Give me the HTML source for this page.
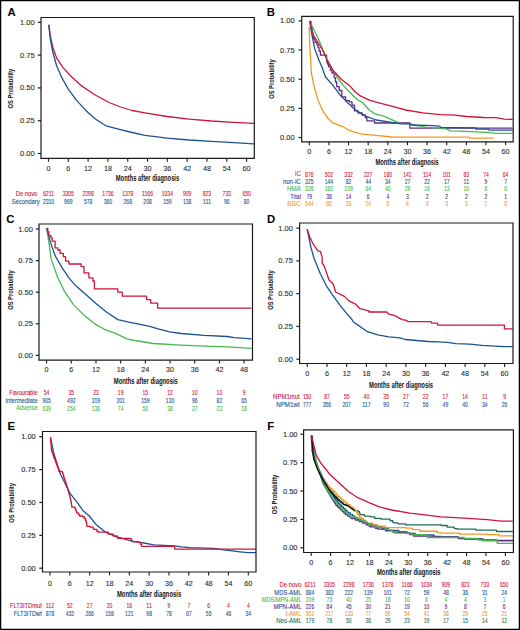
<!DOCTYPE html><html><head><meta charset="utf-8"><style>html,body{margin:0;padding:0;background:#fff;}svg{display:block;font-family:"Liberation Sans",sans-serif;}</style></head><body>
<svg width="520" height="630" viewBox="0 0 520 630">
<rect x="0" y="0" width="520" height="630" fill="#fff"/>
<polyline points="48.80,24.80 50.30,35.90 52.70,47.00 56.70,58.10 63.00,67.60 71.00,76.30 80.50,85.10 94.00,94.30 109.00,102.50 120.50,107.00 132.00,110.50 145.00,112.80 167.10,116.50 189.20,119.20 211.40,121.00 233.50,122.30 254.00,123.40" fill="none" stroke="#d0143a" stroke-width="1.3" stroke-linejoin="round" stroke-linecap="butt"/>
<polyline points="48.80,24.80 50.30,39.00 52.70,51.70 56.70,66.00 61.50,77.10 67.80,88.30 75.70,99.40 83.70,108.10 87.70,112.30 95.40,119.00 106.00,125.80 118.50,129.10 130.00,132.00 145.00,135.40 167.10,138.20 189.20,140.00 211.40,141.30 233.50,142.70 254.00,143.80" fill="none" stroke="#1b5292" stroke-width="1.3" stroke-linejoin="round" stroke-linecap="butt"/>
<path d="M41.00,17.50 H254.30 V158.30 H41.00 Z" fill="none" stroke="#1a1a1a" stroke-width="1.2"/>
<line x1="37.80" y1="153.50" x2="41.00" y2="153.50" stroke="#1a1a1a" stroke-width="1.2"/>
<text x="34.60" y="156.00" font-size="7.5" fill="#2a2a2a" text-anchor="end" font-weight="normal" stroke="#2a2a2a" stroke-width="0.1">0.00</text>
<line x1="37.80" y1="120.70" x2="41.00" y2="120.70" stroke="#1a1a1a" stroke-width="1.2"/>
<text x="34.60" y="123.20" font-size="7.5" fill="#2a2a2a" text-anchor="end" font-weight="normal" stroke="#2a2a2a" stroke-width="0.1">0.25</text>
<line x1="37.80" y1="87.90" x2="41.00" y2="87.90" stroke="#1a1a1a" stroke-width="1.2"/>
<text x="34.60" y="90.40" font-size="7.5" fill="#2a2a2a" text-anchor="end" font-weight="normal" stroke="#2a2a2a" stroke-width="0.1">0.50</text>
<line x1="37.80" y1="55.10" x2="41.00" y2="55.10" stroke="#1a1a1a" stroke-width="1.2"/>
<text x="34.60" y="57.60" font-size="7.5" fill="#2a2a2a" text-anchor="end" font-weight="normal" stroke="#2a2a2a" stroke-width="0.1">0.75</text>
<line x1="37.80" y1="22.30" x2="41.00" y2="22.30" stroke="#1a1a1a" stroke-width="1.2"/>
<text x="34.60" y="24.80" font-size="7.5" fill="#2a2a2a" text-anchor="end" font-weight="normal" stroke="#2a2a2a" stroke-width="0.1">1.00</text>
<line x1="48.50" y1="158.30" x2="48.50" y2="161.70" stroke="#1a1a1a" stroke-width="1.1"/>
<text x="48.50" y="171.00" font-size="7.2" fill="#2a2a2a" text-anchor="middle" font-weight="normal" stroke="#2a2a2a" stroke-width="0.1">0</text>
<line x1="68.31" y1="158.30" x2="68.31" y2="161.70" stroke="#1a1a1a" stroke-width="1.1"/>
<text x="68.31" y="171.00" font-size="7.2" fill="#2a2a2a" text-anchor="middle" font-weight="normal" stroke="#2a2a2a" stroke-width="0.1">6</text>
<line x1="88.12" y1="158.30" x2="88.12" y2="161.70" stroke="#1a1a1a" stroke-width="1.1"/>
<text x="88.12" y="171.00" font-size="7.2" fill="#2a2a2a" text-anchor="middle" font-weight="normal" stroke="#2a2a2a" stroke-width="0.1">12</text>
<line x1="107.93" y1="158.30" x2="107.93" y2="161.70" stroke="#1a1a1a" stroke-width="1.1"/>
<text x="107.93" y="171.00" font-size="7.2" fill="#2a2a2a" text-anchor="middle" font-weight="normal" stroke="#2a2a2a" stroke-width="0.1">18</text>
<line x1="127.74" y1="158.30" x2="127.74" y2="161.70" stroke="#1a1a1a" stroke-width="1.1"/>
<text x="127.74" y="171.00" font-size="7.2" fill="#2a2a2a" text-anchor="middle" font-weight="normal" stroke="#2a2a2a" stroke-width="0.1">24</text>
<line x1="147.55" y1="158.30" x2="147.55" y2="161.70" stroke="#1a1a1a" stroke-width="1.1"/>
<text x="147.55" y="171.00" font-size="7.2" fill="#2a2a2a" text-anchor="middle" font-weight="normal" stroke="#2a2a2a" stroke-width="0.1">30</text>
<line x1="167.36" y1="158.30" x2="167.36" y2="161.70" stroke="#1a1a1a" stroke-width="1.1"/>
<text x="167.36" y="171.00" font-size="7.2" fill="#2a2a2a" text-anchor="middle" font-weight="normal" stroke="#2a2a2a" stroke-width="0.1">36</text>
<line x1="187.17" y1="158.30" x2="187.17" y2="161.70" stroke="#1a1a1a" stroke-width="1.1"/>
<text x="187.17" y="171.00" font-size="7.2" fill="#2a2a2a" text-anchor="middle" font-weight="normal" stroke="#2a2a2a" stroke-width="0.1">42</text>
<line x1="206.98" y1="158.30" x2="206.98" y2="161.70" stroke="#1a1a1a" stroke-width="1.1"/>
<text x="206.98" y="171.00" font-size="7.2" fill="#2a2a2a" text-anchor="middle" font-weight="normal" stroke="#2a2a2a" stroke-width="0.1">48</text>
<line x1="226.79" y1="158.30" x2="226.79" y2="161.70" stroke="#1a1a1a" stroke-width="1.1"/>
<text x="226.79" y="171.00" font-size="7.2" fill="#2a2a2a" text-anchor="middle" font-weight="normal" stroke="#2a2a2a" stroke-width="0.1">54</text>
<line x1="246.60" y1="158.30" x2="246.60" y2="161.70" stroke="#1a1a1a" stroke-width="1.1"/>
<text x="246.60" y="171.00" font-size="7.2" fill="#2a2a2a" text-anchor="middle" font-weight="normal" stroke="#2a2a2a" stroke-width="0.1">60</text>
<text x="115.80" y="181.00" font-size="8.6" fill="#111" text-anchor="start" font-weight="bold" textLength="63.40" lengthAdjust="spacingAndGlyphs">Months after diagnosis</text>
<text transform="translate(12.70,88.60) rotate(-90)" x="0" y="0" font-size="8.0" font-weight="bold" fill="#111" text-anchor="middle" textLength="39.6" lengthAdjust="spacingAndGlyphs">OS Probability</text>
<text x="7.50" y="15.60" font-size="11.3" fill="#000" text-anchor="start" font-weight="bold">A</text>
<text x="15.80" y="195.60" font-size="6.5" fill="#d0143a" text-anchor="start" font-weight="normal" textLength="21.50" lengthAdjust="spacingAndGlyphs" stroke="#d0143a" stroke-width="0.1">De novo</text>
<text x="48.50" y="195.80" font-size="6.4" fill="#d0143a" text-anchor="middle" font-weight="normal" textLength="11.20" lengthAdjust="spacingAndGlyphs" stroke="#d0143a" stroke-width="0.1">6211</text>
<text x="68.31" y="195.80" font-size="6.4" fill="#d0143a" text-anchor="middle" font-weight="normal" textLength="11.20" lengthAdjust="spacingAndGlyphs" stroke="#d0143a" stroke-width="0.1">3305</text>
<text x="88.12" y="195.80" font-size="6.4" fill="#d0143a" text-anchor="middle" font-weight="normal" textLength="11.20" lengthAdjust="spacingAndGlyphs" stroke="#d0143a" stroke-width="0.1">2298</text>
<text x="107.93" y="195.80" font-size="6.4" fill="#d0143a" text-anchor="middle" font-weight="normal" textLength="11.20" lengthAdjust="spacingAndGlyphs" stroke="#d0143a" stroke-width="0.1">1736</text>
<text x="127.74" y="195.80" font-size="6.4" fill="#d0143a" text-anchor="middle" font-weight="normal" textLength="11.20" lengthAdjust="spacingAndGlyphs" stroke="#d0143a" stroke-width="0.1">1378</text>
<text x="147.55" y="195.80" font-size="6.4" fill="#d0143a" text-anchor="middle" font-weight="normal" textLength="11.20" lengthAdjust="spacingAndGlyphs" stroke="#d0143a" stroke-width="0.1">1166</text>
<text x="167.36" y="195.80" font-size="6.4" fill="#d0143a" text-anchor="middle" font-weight="normal" textLength="11.20" lengthAdjust="spacingAndGlyphs" stroke="#d0143a" stroke-width="0.1">1034</text>
<text x="187.17" y="195.80" font-size="6.4" fill="#d0143a" text-anchor="middle" font-weight="normal" textLength="8.40" lengthAdjust="spacingAndGlyphs" stroke="#d0143a" stroke-width="0.1">909</text>
<text x="206.98" y="195.80" font-size="6.4" fill="#d0143a" text-anchor="middle" font-weight="normal" textLength="8.40" lengthAdjust="spacingAndGlyphs" stroke="#d0143a" stroke-width="0.1">823</text>
<text x="226.79" y="195.80" font-size="6.4" fill="#d0143a" text-anchor="middle" font-weight="normal" textLength="8.40" lengthAdjust="spacingAndGlyphs" stroke="#d0143a" stroke-width="0.1">733</text>
<text x="246.60" y="195.80" font-size="6.4" fill="#d0143a" text-anchor="middle" font-weight="normal" textLength="8.40" lengthAdjust="spacingAndGlyphs" stroke="#d0143a" stroke-width="0.1">650</text>
<text x="11.70" y="203.60" font-size="6.5" fill="#1b5292" text-anchor="start" font-weight="normal" textLength="27.90" lengthAdjust="spacingAndGlyphs" stroke="#1b5292" stroke-width="0.1">Secondary</text>
<text x="48.50" y="203.80" font-size="6.4" fill="#1b5292" text-anchor="middle" font-weight="normal" textLength="11.20" lengthAdjust="spacingAndGlyphs" stroke="#1b5292" stroke-width="0.1">2310</text>
<text x="68.31" y="203.80" font-size="6.4" fill="#1b5292" text-anchor="middle" font-weight="normal" textLength="8.40" lengthAdjust="spacingAndGlyphs" stroke="#1b5292" stroke-width="0.1">969</text>
<text x="88.12" y="203.80" font-size="6.4" fill="#1b5292" text-anchor="middle" font-weight="normal" textLength="8.40" lengthAdjust="spacingAndGlyphs" stroke="#1b5292" stroke-width="0.1">578</text>
<text x="107.93" y="203.80" font-size="6.4" fill="#1b5292" text-anchor="middle" font-weight="normal" textLength="8.40" lengthAdjust="spacingAndGlyphs" stroke="#1b5292" stroke-width="0.1">360</text>
<text x="127.74" y="203.80" font-size="6.4" fill="#1b5292" text-anchor="middle" font-weight="normal" textLength="8.40" lengthAdjust="spacingAndGlyphs" stroke="#1b5292" stroke-width="0.1">268</text>
<text x="147.55" y="203.80" font-size="6.4" fill="#1b5292" text-anchor="middle" font-weight="normal" textLength="8.40" lengthAdjust="spacingAndGlyphs" stroke="#1b5292" stroke-width="0.1">208</text>
<text x="167.36" y="203.80" font-size="6.4" fill="#1b5292" text-anchor="middle" font-weight="normal" textLength="8.40" lengthAdjust="spacingAndGlyphs" stroke="#1b5292" stroke-width="0.1">159</text>
<text x="187.17" y="203.80" font-size="6.4" fill="#1b5292" text-anchor="middle" font-weight="normal" textLength="8.40" lengthAdjust="spacingAndGlyphs" stroke="#1b5292" stroke-width="0.1">138</text>
<text x="206.98" y="203.80" font-size="6.4" fill="#1b5292" text-anchor="middle" font-weight="normal" textLength="8.40" lengthAdjust="spacingAndGlyphs" stroke="#1b5292" stroke-width="0.1">111</text>
<text x="226.79" y="203.80" font-size="6.4" fill="#1b5292" text-anchor="middle" font-weight="normal" textLength="5.60" lengthAdjust="spacingAndGlyphs" stroke="#1b5292" stroke-width="0.1">96</text>
<text x="246.60" y="203.80" font-size="6.4" fill="#1b5292" text-anchor="middle" font-weight="normal" textLength="5.60" lengthAdjust="spacingAndGlyphs" stroke="#1b5292" stroke-width="0.1">80</text>
<polyline points="309.10,27.10 309.90,48.60 310.70,60.00 311.30,72.70 313.90,85.40 317.70,99.40 322.80,110.80 327.90,118.40 332.90,122.90 338.00,124.80 343.10,126.70 348.20,129.80 355.00,132.40 360.80,133.80 376.20,135.40 391.50,137.00 468.80,137.10 470.00,138.20 493.60,138.20" fill="none" stroke="#f7961f" stroke-width="1.3" stroke-linejoin="round" stroke-linecap="butt"/>
<polyline points="309.70,21.40 311.00,21.40 311.00,28.00 312.00,28.00 312.00,33.00 313.00,33.00 313.00,37.00 313.70,37.00 313.70,39.00 315.10,39.00 315.10,42.40 317.00,42.40 317.00,44.80 318.00,44.80 318.00,47.60 319.00,47.60 319.00,51.00 320.40,51.00 320.40,55.20 325.10,55.20 325.10,55.20 326.60,55.20 326.60,61.90 327.50,61.90 327.50,64.00 328.50,64.00 328.50,66.70 330.40,66.70 330.40,70.20 332.00,70.20 332.00,73.00 334.20,73.00 334.20,77.80 335.50,77.80 335.50,82.00 336.70,82.00 336.70,86.70 339.30,86.70 339.30,90.50 341.80,90.50 341.80,96.80 345.60,96.80 345.60,100.60 349.40,100.60 349.40,101.90 352.00,101.90 352.00,105.10 354.50,105.10 354.50,110.80 358.00,110.80 358.00,113.00 362.00,113.00 362.00,115.00 365.40,115.00 365.40,117.70 366.90,117.70 366.90,120.80 374.60,120.80 374.60,123.00 409.80,123.00 409.80,123.00 409.80,123.00 409.80,128.20 512.70,128.20 512.70,128.20" fill="none" stroke="#5e2a86" stroke-width="1.3" stroke-linejoin="round" stroke-linecap="butt"/>
<polyline points="309.70,21.00 313.70,29.50 318.50,39.00 323.20,50.50 327.00,59.00 330.90,66.70 336.70,76.50 343.10,85.40 349.40,91.70 355.00,97.50 357.70,100.00 362.30,102.30 368.50,109.20 374.60,113.80 383.80,116.20 397.70,122.30 400.00,123.60 411.50,123.60 412.00,125.00 420.80,126.10 426.50,127.30 445.00,128.50 450.70,130.80 460.00,131.10 480.40,132.10 489.60,132.70 495.40,133.30 512.70,133.30" fill="none" stroke="#45b94f" stroke-width="1.3" stroke-linejoin="round" stroke-linecap="butt"/>
<polyline points="309.70,21.40 311.80,34.30 314.70,48.60 318.50,59.00 322.30,68.00 325.50,77.00 332.90,85.40 340.60,95.60 348.20,103.20 355.00,109.50 365.40,116.20 376.20,120.00 391.50,122.30 400.00,123.60 409.20,123.80 411.50,125.00 433.40,125.60 439.80,126.10 440.40,127.30 475.80,127.80 475.80,129.20 488.40,129.20 489.00,130.10 512.70,130.10" fill="none" stroke="#1b5292" stroke-width="1.3" stroke-linejoin="round" stroke-linecap="butt"/>
<polyline points="309.70,21.40 312.80,34.30 317.50,41.90 322.30,49.50 327.00,60.00 332.90,70.20 341.80,79.70 349.40,85.40 355.00,91.70 360.80,96.20 370.00,100.30 380.80,103.40 391.50,106.20 405.80,110.00 423.00,112.90 440.40,114.60 455.00,115.20 466.50,116.50 483.80,117.50 495.40,117.70 504.60,119.10 512.70,119.40" fill="none" stroke="#d0143a" stroke-width="1.3" stroke-linejoin="round" stroke-linecap="butt"/>
<path d="M301.70,16.40 H513.20 V141.80 H301.70 Z" fill="none" stroke="#1a1a1a" stroke-width="1.2"/>
<line x1="298.50" y1="137.50" x2="301.70" y2="137.50" stroke="#1a1a1a" stroke-width="1.2"/>
<text x="294.70" y="140.00" font-size="7.5" fill="#2a2a2a" text-anchor="end" font-weight="normal" stroke="#2a2a2a" stroke-width="0.1">0.00</text>
<line x1="298.50" y1="108.35" x2="301.70" y2="108.35" stroke="#1a1a1a" stroke-width="1.2"/>
<text x="294.70" y="110.85" font-size="7.5" fill="#2a2a2a" text-anchor="end" font-weight="normal" stroke="#2a2a2a" stroke-width="0.1">0.25</text>
<line x1="298.50" y1="79.20" x2="301.70" y2="79.20" stroke="#1a1a1a" stroke-width="1.2"/>
<text x="294.70" y="81.70" font-size="7.5" fill="#2a2a2a" text-anchor="end" font-weight="normal" stroke="#2a2a2a" stroke-width="0.1">0.50</text>
<line x1="298.50" y1="50.05" x2="301.70" y2="50.05" stroke="#1a1a1a" stroke-width="1.2"/>
<text x="294.70" y="52.55" font-size="7.5" fill="#2a2a2a" text-anchor="end" font-weight="normal" stroke="#2a2a2a" stroke-width="0.1">0.75</text>
<line x1="298.50" y1="20.90" x2="301.70" y2="20.90" stroke="#1a1a1a" stroke-width="1.2"/>
<text x="294.70" y="23.40" font-size="7.5" fill="#2a2a2a" text-anchor="end" font-weight="normal" stroke="#2a2a2a" stroke-width="0.1">1.00</text>
<line x1="309.30" y1="141.80" x2="309.30" y2="145.20" stroke="#1a1a1a" stroke-width="1.1"/>
<text x="309.30" y="154.20" font-size="7.2" fill="#2a2a2a" text-anchor="middle" font-weight="normal" stroke="#2a2a2a" stroke-width="0.1">0</text>
<line x1="328.93" y1="141.80" x2="328.93" y2="145.20" stroke="#1a1a1a" stroke-width="1.1"/>
<text x="328.93" y="154.20" font-size="7.2" fill="#2a2a2a" text-anchor="middle" font-weight="normal" stroke="#2a2a2a" stroke-width="0.1">6</text>
<line x1="348.56" y1="141.80" x2="348.56" y2="145.20" stroke="#1a1a1a" stroke-width="1.1"/>
<text x="348.56" y="154.20" font-size="7.2" fill="#2a2a2a" text-anchor="middle" font-weight="normal" stroke="#2a2a2a" stroke-width="0.1">12</text>
<line x1="368.19" y1="141.80" x2="368.19" y2="145.20" stroke="#1a1a1a" stroke-width="1.1"/>
<text x="368.19" y="154.20" font-size="7.2" fill="#2a2a2a" text-anchor="middle" font-weight="normal" stroke="#2a2a2a" stroke-width="0.1">18</text>
<line x1="387.82" y1="141.80" x2="387.82" y2="145.20" stroke="#1a1a1a" stroke-width="1.1"/>
<text x="387.82" y="154.20" font-size="7.2" fill="#2a2a2a" text-anchor="middle" font-weight="normal" stroke="#2a2a2a" stroke-width="0.1">24</text>
<line x1="407.45" y1="141.80" x2="407.45" y2="145.20" stroke="#1a1a1a" stroke-width="1.1"/>
<text x="407.45" y="154.20" font-size="7.2" fill="#2a2a2a" text-anchor="middle" font-weight="normal" stroke="#2a2a2a" stroke-width="0.1">30</text>
<line x1="427.08" y1="141.80" x2="427.08" y2="145.20" stroke="#1a1a1a" stroke-width="1.1"/>
<text x="427.08" y="154.20" font-size="7.2" fill="#2a2a2a" text-anchor="middle" font-weight="normal" stroke="#2a2a2a" stroke-width="0.1">36</text>
<line x1="446.71" y1="141.80" x2="446.71" y2="145.20" stroke="#1a1a1a" stroke-width="1.1"/>
<text x="446.71" y="154.20" font-size="7.2" fill="#2a2a2a" text-anchor="middle" font-weight="normal" stroke="#2a2a2a" stroke-width="0.1">42</text>
<line x1="466.34" y1="141.80" x2="466.34" y2="145.20" stroke="#1a1a1a" stroke-width="1.1"/>
<text x="466.34" y="154.20" font-size="7.2" fill="#2a2a2a" text-anchor="middle" font-weight="normal" stroke="#2a2a2a" stroke-width="0.1">48</text>
<line x1="485.97" y1="141.80" x2="485.97" y2="145.20" stroke="#1a1a1a" stroke-width="1.1"/>
<text x="485.97" y="154.20" font-size="7.2" fill="#2a2a2a" text-anchor="middle" font-weight="normal" stroke="#2a2a2a" stroke-width="0.1">54</text>
<line x1="505.60" y1="141.80" x2="505.60" y2="145.20" stroke="#1a1a1a" stroke-width="1.1"/>
<text x="505.60" y="154.20" font-size="7.2" fill="#2a2a2a" text-anchor="middle" font-weight="normal" stroke="#2a2a2a" stroke-width="0.1">60</text>
<text x="375.40" y="164.60" font-size="8.6" fill="#111" text-anchor="start" font-weight="bold" textLength="63.40" lengthAdjust="spacingAndGlyphs">Months after diagnosis</text>
<text transform="translate(274.30,79.00) rotate(-90)" x="0" y="0" font-size="8.0" font-weight="bold" fill="#111" text-anchor="middle" textLength="39.6" lengthAdjust="spacingAndGlyphs">OS Probability</text>
<text x="266.70" y="15.50" font-size="11.3" fill="#000" text-anchor="start" font-weight="bold">B</text>
<text x="295.00" y="176.30" font-size="6.5" fill="#d0143a" text-anchor="start" font-weight="normal" textLength="5.90" lengthAdjust="spacingAndGlyphs" stroke="#d0143a" stroke-width="0.1">IC</text>
<text x="309.30" y="176.50" font-size="6.4" fill="#d0143a" text-anchor="middle" font-weight="normal" textLength="8.40" lengthAdjust="spacingAndGlyphs" stroke="#d0143a" stroke-width="0.1">876</text>
<text x="328.93" y="176.50" font-size="6.4" fill="#d0143a" text-anchor="middle" font-weight="normal" textLength="8.40" lengthAdjust="spacingAndGlyphs" stroke="#d0143a" stroke-width="0.1">502</text>
<text x="348.56" y="176.50" font-size="6.4" fill="#d0143a" text-anchor="middle" font-weight="normal" textLength="8.40" lengthAdjust="spacingAndGlyphs" stroke="#d0143a" stroke-width="0.1">332</text>
<text x="368.19" y="176.50" font-size="6.4" fill="#d0143a" text-anchor="middle" font-weight="normal" textLength="8.40" lengthAdjust="spacingAndGlyphs" stroke="#d0143a" stroke-width="0.1">227</text>
<text x="387.82" y="176.50" font-size="6.4" fill="#d0143a" text-anchor="middle" font-weight="normal" textLength="8.40" lengthAdjust="spacingAndGlyphs" stroke="#d0143a" stroke-width="0.1">180</text>
<text x="407.45" y="176.50" font-size="6.4" fill="#d0143a" text-anchor="middle" font-weight="normal" textLength="8.40" lengthAdjust="spacingAndGlyphs" stroke="#d0143a" stroke-width="0.1">141</text>
<text x="427.08" y="176.50" font-size="6.4" fill="#d0143a" text-anchor="middle" font-weight="normal" textLength="8.40" lengthAdjust="spacingAndGlyphs" stroke="#d0143a" stroke-width="0.1">114</text>
<text x="446.71" y="176.50" font-size="6.4" fill="#d0143a" text-anchor="middle" font-weight="normal" textLength="8.40" lengthAdjust="spacingAndGlyphs" stroke="#d0143a" stroke-width="0.1">101</text>
<text x="466.34" y="176.50" font-size="6.4" fill="#d0143a" text-anchor="middle" font-weight="normal" textLength="5.60" lengthAdjust="spacingAndGlyphs" stroke="#d0143a" stroke-width="0.1">83</text>
<text x="485.97" y="176.50" font-size="6.4" fill="#d0143a" text-anchor="middle" font-weight="normal" textLength="5.60" lengthAdjust="spacingAndGlyphs" stroke="#d0143a" stroke-width="0.1">74</text>
<text x="505.60" y="176.50" font-size="6.4" fill="#d0143a" text-anchor="middle" font-weight="normal" textLength="5.60" lengthAdjust="spacingAndGlyphs" stroke="#d0143a" stroke-width="0.1">64</text>
<text x="282.90" y="183.60" font-size="6.5" fill="#1b5292" text-anchor="start" font-weight="normal" textLength="18.00" lengthAdjust="spacingAndGlyphs" stroke="#1b5292" stroke-width="0.1">non-IC</text>
<text x="309.30" y="183.80" font-size="6.4" fill="#1b5292" text-anchor="middle" font-weight="normal" textLength="8.40" lengthAdjust="spacingAndGlyphs" stroke="#1b5292" stroke-width="0.1">325</text>
<text x="328.93" y="183.80" font-size="6.4" fill="#1b5292" text-anchor="middle" font-weight="normal" textLength="8.40" lengthAdjust="spacingAndGlyphs" stroke="#1b5292" stroke-width="0.1">144</text>
<text x="348.56" y="183.80" font-size="6.4" fill="#1b5292" text-anchor="middle" font-weight="normal" textLength="5.60" lengthAdjust="spacingAndGlyphs" stroke="#1b5292" stroke-width="0.1">82</text>
<text x="368.19" y="183.80" font-size="6.4" fill="#1b5292" text-anchor="middle" font-weight="normal" textLength="5.60" lengthAdjust="spacingAndGlyphs" stroke="#1b5292" stroke-width="0.1">44</text>
<text x="387.82" y="183.80" font-size="6.4" fill="#1b5292" text-anchor="middle" font-weight="normal" textLength="5.60" lengthAdjust="spacingAndGlyphs" stroke="#1b5292" stroke-width="0.1">34</text>
<text x="407.45" y="183.80" font-size="6.4" fill="#1b5292" text-anchor="middle" font-weight="normal" textLength="5.60" lengthAdjust="spacingAndGlyphs" stroke="#1b5292" stroke-width="0.1">27</text>
<text x="427.08" y="183.80" font-size="6.4" fill="#1b5292" text-anchor="middle" font-weight="normal" textLength="5.60" lengthAdjust="spacingAndGlyphs" stroke="#1b5292" stroke-width="0.1">22</text>
<text x="446.71" y="183.80" font-size="6.4" fill="#1b5292" text-anchor="middle" font-weight="normal" textLength="5.60" lengthAdjust="spacingAndGlyphs" stroke="#1b5292" stroke-width="0.1">17</text>
<text x="466.34" y="183.80" font-size="6.4" fill="#1b5292" text-anchor="middle" font-weight="normal" textLength="5.60" lengthAdjust="spacingAndGlyphs" stroke="#1b5292" stroke-width="0.1">11</text>
<text x="485.97" y="183.80" font-size="6.4" fill="#1b5292" text-anchor="middle" font-weight="normal" textLength="2.80" lengthAdjust="spacingAndGlyphs" stroke="#1b5292" stroke-width="0.1">9</text>
<text x="505.60" y="183.80" font-size="6.4" fill="#1b5292" text-anchor="middle" font-weight="normal" textLength="2.80" lengthAdjust="spacingAndGlyphs" stroke="#1b5292" stroke-width="0.1">7</text>
<text x="287.10" y="191.10" font-size="6.5" fill="#45b94f" text-anchor="start" font-weight="normal" textLength="13.80" lengthAdjust="spacingAndGlyphs" stroke="#45b94f" stroke-width="0.1">HMA</text>
<text x="309.30" y="191.30" font-size="6.4" fill="#45b94f" text-anchor="middle" font-weight="normal" textLength="8.40" lengthAdjust="spacingAndGlyphs" stroke="#45b94f" stroke-width="0.1">328</text>
<text x="328.93" y="191.30" font-size="6.4" fill="#45b94f" text-anchor="middle" font-weight="normal" textLength="8.40" lengthAdjust="spacingAndGlyphs" stroke="#45b94f" stroke-width="0.1">183</text>
<text x="348.56" y="191.30" font-size="6.4" fill="#45b94f" text-anchor="middle" font-weight="normal" textLength="8.40" lengthAdjust="spacingAndGlyphs" stroke="#45b94f" stroke-width="0.1">109</text>
<text x="368.19" y="191.30" font-size="6.4" fill="#45b94f" text-anchor="middle" font-weight="normal" textLength="5.60" lengthAdjust="spacingAndGlyphs" stroke="#45b94f" stroke-width="0.1">64</text>
<text x="387.82" y="191.30" font-size="6.4" fill="#45b94f" text-anchor="middle" font-weight="normal" textLength="5.60" lengthAdjust="spacingAndGlyphs" stroke="#45b94f" stroke-width="0.1">40</text>
<text x="407.45" y="191.30" font-size="6.4" fill="#45b94f" text-anchor="middle" font-weight="normal" textLength="5.60" lengthAdjust="spacingAndGlyphs" stroke="#45b94f" stroke-width="0.1">29</text>
<text x="427.08" y="191.30" font-size="6.4" fill="#45b94f" text-anchor="middle" font-weight="normal" textLength="5.60" lengthAdjust="spacingAndGlyphs" stroke="#45b94f" stroke-width="0.1">16</text>
<text x="446.71" y="191.30" font-size="6.4" fill="#45b94f" text-anchor="middle" font-weight="normal" textLength="5.60" lengthAdjust="spacingAndGlyphs" stroke="#45b94f" stroke-width="0.1">13</text>
<text x="466.34" y="191.30" font-size="6.4" fill="#45b94f" text-anchor="middle" font-weight="normal" textLength="5.60" lengthAdjust="spacingAndGlyphs" stroke="#45b94f" stroke-width="0.1">10</text>
<text x="485.97" y="191.30" font-size="6.4" fill="#45b94f" text-anchor="middle" font-weight="normal" textLength="2.80" lengthAdjust="spacingAndGlyphs" stroke="#45b94f" stroke-width="0.1">8</text>
<text x="505.60" y="191.30" font-size="6.4" fill="#45b94f" text-anchor="middle" font-weight="normal" textLength="2.80" lengthAdjust="spacingAndGlyphs" stroke="#45b94f" stroke-width="0.1">6</text>
<text x="290.20" y="198.60" font-size="6.5" fill="#5e2a86" text-anchor="start" font-weight="normal" textLength="10.70" lengthAdjust="spacingAndGlyphs" stroke="#5e2a86" stroke-width="0.1">Trial</text>
<text x="309.30" y="198.80" font-size="6.4" fill="#5e2a86" text-anchor="middle" font-weight="normal" textLength="5.60" lengthAdjust="spacingAndGlyphs" stroke="#5e2a86" stroke-width="0.1">79</text>
<text x="328.93" y="198.80" font-size="6.4" fill="#5e2a86" text-anchor="middle" font-weight="normal" textLength="5.60" lengthAdjust="spacingAndGlyphs" stroke="#5e2a86" stroke-width="0.1">38</text>
<text x="348.56" y="198.80" font-size="6.4" fill="#5e2a86" text-anchor="middle" font-weight="normal" textLength="5.60" lengthAdjust="spacingAndGlyphs" stroke="#5e2a86" stroke-width="0.1">14</text>
<text x="368.19" y="198.80" font-size="6.4" fill="#5e2a86" text-anchor="middle" font-weight="normal" textLength="2.80" lengthAdjust="spacingAndGlyphs" stroke="#5e2a86" stroke-width="0.1">6</text>
<text x="387.82" y="198.80" font-size="6.4" fill="#5e2a86" text-anchor="middle" font-weight="normal" textLength="2.80" lengthAdjust="spacingAndGlyphs" stroke="#5e2a86" stroke-width="0.1">4</text>
<text x="407.45" y="198.80" font-size="6.4" fill="#5e2a86" text-anchor="middle" font-weight="normal" textLength="2.80" lengthAdjust="spacingAndGlyphs" stroke="#5e2a86" stroke-width="0.1">3</text>
<text x="427.08" y="198.80" font-size="6.4" fill="#5e2a86" text-anchor="middle" font-weight="normal" textLength="2.80" lengthAdjust="spacingAndGlyphs" stroke="#5e2a86" stroke-width="0.1">2</text>
<text x="446.71" y="198.80" font-size="6.4" fill="#5e2a86" text-anchor="middle" font-weight="normal" textLength="2.80" lengthAdjust="spacingAndGlyphs" stroke="#5e2a86" stroke-width="0.1">2</text>
<text x="466.34" y="198.80" font-size="6.4" fill="#5e2a86" text-anchor="middle" font-weight="normal" textLength="2.80" lengthAdjust="spacingAndGlyphs" stroke="#5e2a86" stroke-width="0.1">2</text>
<text x="485.97" y="198.80" font-size="6.4" fill="#5e2a86" text-anchor="middle" font-weight="normal" textLength="2.80" lengthAdjust="spacingAndGlyphs" stroke="#5e2a86" stroke-width="0.1">2</text>
<text x="505.60" y="198.80" font-size="6.4" fill="#5e2a86" text-anchor="middle" font-weight="normal" textLength="2.80" lengthAdjust="spacingAndGlyphs" stroke="#5e2a86" stroke-width="0.1">1</text>
<text x="287.30" y="205.70" font-size="6.5" fill="#f7961f" text-anchor="start" font-weight="normal" textLength="13.60" lengthAdjust="spacingAndGlyphs" stroke="#f7961f" stroke-width="0.1">BSC</text>
<text x="309.30" y="205.90" font-size="6.4" fill="#f7961f" text-anchor="middle" font-weight="normal" textLength="8.40" lengthAdjust="spacingAndGlyphs" stroke="#f7961f" stroke-width="0.1">544</text>
<text x="328.93" y="205.90" font-size="6.4" fill="#f7961f" text-anchor="middle" font-weight="normal" textLength="5.60" lengthAdjust="spacingAndGlyphs" stroke="#f7961f" stroke-width="0.1">86</text>
<text x="348.56" y="205.90" font-size="6.4" fill="#f7961f" text-anchor="middle" font-weight="normal" textLength="5.60" lengthAdjust="spacingAndGlyphs" stroke="#f7961f" stroke-width="0.1">33</text>
<text x="368.19" y="205.90" font-size="6.4" fill="#f7961f" text-anchor="middle" font-weight="normal" textLength="5.60" lengthAdjust="spacingAndGlyphs" stroke="#f7961f" stroke-width="0.1">14</text>
<text x="387.82" y="205.90" font-size="6.4" fill="#f7961f" text-anchor="middle" font-weight="normal" textLength="2.80" lengthAdjust="spacingAndGlyphs" stroke="#f7961f" stroke-width="0.1">6</text>
<text x="407.45" y="205.90" font-size="6.4" fill="#f7961f" text-anchor="middle" font-weight="normal" textLength="2.80" lengthAdjust="spacingAndGlyphs" stroke="#f7961f" stroke-width="0.1">4</text>
<text x="427.08" y="205.90" font-size="6.4" fill="#f7961f" text-anchor="middle" font-weight="normal" textLength="2.80" lengthAdjust="spacingAndGlyphs" stroke="#f7961f" stroke-width="0.1">3</text>
<text x="446.71" y="205.90" font-size="6.4" fill="#f7961f" text-anchor="middle" font-weight="normal" textLength="2.80" lengthAdjust="spacingAndGlyphs" stroke="#f7961f" stroke-width="0.1">3</text>
<text x="466.34" y="205.90" font-size="6.4" fill="#f7961f" text-anchor="middle" font-weight="normal" textLength="2.80" lengthAdjust="spacingAndGlyphs" stroke="#f7961f" stroke-width="0.1">3</text>
<text x="485.97" y="205.90" font-size="6.4" fill="#f7961f" text-anchor="middle" font-weight="normal" textLength="2.80" lengthAdjust="spacingAndGlyphs" stroke="#f7961f" stroke-width="0.1">1</text>
<text x="505.60" y="205.90" font-size="6.4" fill="#f7961f" text-anchor="middle" font-weight="normal" textLength="2.80" lengthAdjust="spacingAndGlyphs" stroke="#f7961f" stroke-width="0.1">0</text>
<polyline points="46.70,228.40 48.90,242.20 51.10,258.90 57.80,277.80 64.40,291.10 73.30,304.40 84.40,315.60 95.60,324.40 104.40,329.30 115.60,333.30 126.70,338.90 135.00,340.50 153.50,343.50 181.20,345.10 204.20,346.20 227.30,346.90 251.50,348.30" fill="none" stroke="#45b94f" stroke-width="1.3" stroke-linejoin="round" stroke-linecap="butt"/>
<polyline points="46.70,228.40 51.10,244.40 55.60,256.70 62.20,267.80 68.90,277.80 75.60,285.60 84.40,293.30 95.60,303.30 106.70,312.20 117.80,319.60 128.90,322.20 135.00,323.40 148.80,326.20 158.10,328.90 169.60,331.90 181.20,333.50 204.20,335.40 227.30,336.50 234.20,337.70 251.50,338.80" fill="none" stroke="#1b5292" stroke-width="1.3" stroke-linejoin="round" stroke-linecap="butt"/>
<polyline points="46.70,228.40 47.80,228.40 47.80,232.00 48.90,232.00 48.90,235.60 51.10,235.60 51.10,237.80 52.20,237.80 52.20,241.10 55.10,241.10 55.10,247.80 57.80,247.80 57.80,250.00 60.00,250.00 60.00,253.30 63.30,253.30 63.30,256.70 65.60,256.70 65.60,261.10 68.90,261.10 68.90,264.00 81.10,264.00 81.10,266.70 84.00,266.70 84.00,272.90 88.90,272.90 88.90,277.80 92.90,277.80 92.90,281.00 94.40,281.00 94.40,288.90 117.80,288.90 117.80,292.20 122.20,292.20 122.20,296.20 146.50,296.20 146.50,299.60 150.70,299.60 150.70,303.10 157.60,303.10 157.60,308.20 251.50,308.20 251.50,308.20" fill="none" stroke="#d0143a" stroke-width="1.3" stroke-linejoin="round" stroke-linecap="butt"/>
<path d="M39.00,224.00 H252.50 V360.20 H39.00 Z" fill="none" stroke="#1a1a1a" stroke-width="1.2"/>
<line x1="35.80" y1="355.40" x2="39.00" y2="355.40" stroke="#1a1a1a" stroke-width="1.2"/>
<text x="32.90" y="357.90" font-size="7.5" fill="#2a2a2a" text-anchor="end" font-weight="normal" stroke="#2a2a2a" stroke-width="0.1">0.00</text>
<line x1="35.80" y1="323.80" x2="39.00" y2="323.80" stroke="#1a1a1a" stroke-width="1.2"/>
<text x="32.90" y="326.30" font-size="7.5" fill="#2a2a2a" text-anchor="end" font-weight="normal" stroke="#2a2a2a" stroke-width="0.1">0.25</text>
<line x1="35.80" y1="292.20" x2="39.00" y2="292.20" stroke="#1a1a1a" stroke-width="1.2"/>
<text x="32.90" y="294.70" font-size="7.5" fill="#2a2a2a" text-anchor="end" font-weight="normal" stroke="#2a2a2a" stroke-width="0.1">0.50</text>
<line x1="35.80" y1="260.60" x2="39.00" y2="260.60" stroke="#1a1a1a" stroke-width="1.2"/>
<text x="32.90" y="263.10" font-size="7.5" fill="#2a2a2a" text-anchor="end" font-weight="normal" stroke="#2a2a2a" stroke-width="0.1">0.75</text>
<line x1="35.80" y1="229.00" x2="39.00" y2="229.00" stroke="#1a1a1a" stroke-width="1.2"/>
<text x="32.90" y="231.50" font-size="7.5" fill="#2a2a2a" text-anchor="end" font-weight="normal" stroke="#2a2a2a" stroke-width="0.1">1.00</text>
<line x1="46.60" y1="360.20" x2="46.60" y2="363.60" stroke="#1a1a1a" stroke-width="1.1"/>
<text x="46.60" y="372.40" font-size="7.2" fill="#2a2a2a" text-anchor="middle" font-weight="normal" stroke="#2a2a2a" stroke-width="0.1">0</text>
<line x1="71.29" y1="360.20" x2="71.29" y2="363.60" stroke="#1a1a1a" stroke-width="1.1"/>
<text x="71.29" y="372.40" font-size="7.2" fill="#2a2a2a" text-anchor="middle" font-weight="normal" stroke="#2a2a2a" stroke-width="0.1">6</text>
<line x1="95.97" y1="360.20" x2="95.97" y2="363.60" stroke="#1a1a1a" stroke-width="1.1"/>
<text x="95.97" y="372.40" font-size="7.2" fill="#2a2a2a" text-anchor="middle" font-weight="normal" stroke="#2a2a2a" stroke-width="0.1">12</text>
<line x1="120.66" y1="360.20" x2="120.66" y2="363.60" stroke="#1a1a1a" stroke-width="1.1"/>
<text x="120.66" y="372.40" font-size="7.2" fill="#2a2a2a" text-anchor="middle" font-weight="normal" stroke="#2a2a2a" stroke-width="0.1">18</text>
<line x1="145.35" y1="360.20" x2="145.35" y2="363.60" stroke="#1a1a1a" stroke-width="1.1"/>
<text x="145.35" y="372.40" font-size="7.2" fill="#2a2a2a" text-anchor="middle" font-weight="normal" stroke="#2a2a2a" stroke-width="0.1">24</text>
<line x1="170.04" y1="360.20" x2="170.04" y2="363.60" stroke="#1a1a1a" stroke-width="1.1"/>
<text x="170.04" y="372.40" font-size="7.2" fill="#2a2a2a" text-anchor="middle" font-weight="normal" stroke="#2a2a2a" stroke-width="0.1">30</text>
<line x1="194.72" y1="360.20" x2="194.72" y2="363.60" stroke="#1a1a1a" stroke-width="1.1"/>
<text x="194.72" y="372.40" font-size="7.2" fill="#2a2a2a" text-anchor="middle" font-weight="normal" stroke="#2a2a2a" stroke-width="0.1">36</text>
<line x1="219.41" y1="360.20" x2="219.41" y2="363.60" stroke="#1a1a1a" stroke-width="1.1"/>
<text x="219.41" y="372.40" font-size="7.2" fill="#2a2a2a" text-anchor="middle" font-weight="normal" stroke="#2a2a2a" stroke-width="0.1">42</text>
<line x1="244.10" y1="360.20" x2="244.10" y2="363.60" stroke="#1a1a1a" stroke-width="1.1"/>
<text x="244.10" y="372.40" font-size="7.2" fill="#2a2a2a" text-anchor="middle" font-weight="normal" stroke="#2a2a2a" stroke-width="0.1">48</text>
<text x="113.80" y="384.40" font-size="8.6" fill="#111" text-anchor="start" font-weight="bold" textLength="64.00" lengthAdjust="spacingAndGlyphs">Months after diagnosis</text>
<text transform="translate(13.30,290.00) rotate(-90)" x="0" y="0" font-size="8.0" font-weight="bold" fill="#111" text-anchor="middle" textLength="39.6" lengthAdjust="spacingAndGlyphs">OS Probability</text>
<text x="6.30" y="222.90" font-size="11.3" fill="#000" text-anchor="start" font-weight="bold">C</text>
<text x="9.20" y="395.00" font-size="6.5" fill="#d0143a" text-anchor="start" font-weight="normal" textLength="28.50" lengthAdjust="spacingAndGlyphs" stroke="#d0143a" stroke-width="0.1">Favourable</text>
<text x="46.60" y="395.20" font-size="6.4" fill="#d0143a" text-anchor="middle" font-weight="normal" textLength="5.60" lengthAdjust="spacingAndGlyphs" stroke="#d0143a" stroke-width="0.1">54</text>
<text x="71.29" y="395.20" font-size="6.4" fill="#d0143a" text-anchor="middle" font-weight="normal" textLength="5.60" lengthAdjust="spacingAndGlyphs" stroke="#d0143a" stroke-width="0.1">35</text>
<text x="95.97" y="395.20" font-size="6.4" fill="#d0143a" text-anchor="middle" font-weight="normal" textLength="5.60" lengthAdjust="spacingAndGlyphs" stroke="#d0143a" stroke-width="0.1">23</text>
<text x="120.66" y="395.20" font-size="6.4" fill="#d0143a" text-anchor="middle" font-weight="normal" textLength="5.60" lengthAdjust="spacingAndGlyphs" stroke="#d0143a" stroke-width="0.1">19</text>
<text x="145.35" y="395.20" font-size="6.4" fill="#d0143a" text-anchor="middle" font-weight="normal" textLength="5.60" lengthAdjust="spacingAndGlyphs" stroke="#d0143a" stroke-width="0.1">15</text>
<text x="170.04" y="395.20" font-size="6.4" fill="#d0143a" text-anchor="middle" font-weight="normal" textLength="5.60" lengthAdjust="spacingAndGlyphs" stroke="#d0143a" stroke-width="0.1">12</text>
<text x="194.72" y="395.20" font-size="6.4" fill="#d0143a" text-anchor="middle" font-weight="normal" textLength="5.60" lengthAdjust="spacingAndGlyphs" stroke="#d0143a" stroke-width="0.1">10</text>
<text x="219.41" y="395.20" font-size="6.4" fill="#d0143a" text-anchor="middle" font-weight="normal" textLength="5.60" lengthAdjust="spacingAndGlyphs" stroke="#d0143a" stroke-width="0.1">10</text>
<text x="244.10" y="395.20" font-size="6.4" fill="#d0143a" text-anchor="middle" font-weight="normal" textLength="2.80" lengthAdjust="spacingAndGlyphs" stroke="#d0143a" stroke-width="0.1">9</text>
<text x="5.40" y="402.80" font-size="6.5" fill="#1b5292" text-anchor="start" font-weight="normal" textLength="32.30" lengthAdjust="spacingAndGlyphs" stroke="#1b5292" stroke-width="0.1">Intermediate</text>
<text x="46.60" y="403.00" font-size="6.4" fill="#1b5292" text-anchor="middle" font-weight="normal" textLength="8.40" lengthAdjust="spacingAndGlyphs" stroke="#1b5292" stroke-width="0.1">905</text>
<text x="71.29" y="403.00" font-size="6.4" fill="#1b5292" text-anchor="middle" font-weight="normal" textLength="8.40" lengthAdjust="spacingAndGlyphs" stroke="#1b5292" stroke-width="0.1">492</text>
<text x="95.97" y="403.00" font-size="6.4" fill="#1b5292" text-anchor="middle" font-weight="normal" textLength="8.40" lengthAdjust="spacingAndGlyphs" stroke="#1b5292" stroke-width="0.1">319</text>
<text x="120.66" y="403.00" font-size="6.4" fill="#1b5292" text-anchor="middle" font-weight="normal" textLength="8.40" lengthAdjust="spacingAndGlyphs" stroke="#1b5292" stroke-width="0.1">201</text>
<text x="145.35" y="403.00" font-size="6.4" fill="#1b5292" text-anchor="middle" font-weight="normal" textLength="8.40" lengthAdjust="spacingAndGlyphs" stroke="#1b5292" stroke-width="0.1">159</text>
<text x="170.04" y="403.00" font-size="6.4" fill="#1b5292" text-anchor="middle" font-weight="normal" textLength="8.40" lengthAdjust="spacingAndGlyphs" stroke="#1b5292" stroke-width="0.1">120</text>
<text x="194.72" y="403.00" font-size="6.4" fill="#1b5292" text-anchor="middle" font-weight="normal" textLength="5.60" lengthAdjust="spacingAndGlyphs" stroke="#1b5292" stroke-width="0.1">96</text>
<text x="219.41" y="403.00" font-size="6.4" fill="#1b5292" text-anchor="middle" font-weight="normal" textLength="5.60" lengthAdjust="spacingAndGlyphs" stroke="#1b5292" stroke-width="0.1">82</text>
<text x="244.10" y="403.00" font-size="6.4" fill="#1b5292" text-anchor="middle" font-weight="normal" textLength="5.60" lengthAdjust="spacingAndGlyphs" stroke="#1b5292" stroke-width="0.1">65</text>
<text x="16.20" y="410.30" font-size="6.5" fill="#45b94f" text-anchor="start" font-weight="normal" textLength="21.50" lengthAdjust="spacingAndGlyphs" stroke="#45b94f" stroke-width="0.1">Adverse</text>
<text x="46.60" y="410.50" font-size="6.4" fill="#45b94f" text-anchor="middle" font-weight="normal" textLength="8.40" lengthAdjust="spacingAndGlyphs" stroke="#45b94f" stroke-width="0.1">639</text>
<text x="71.29" y="410.50" font-size="6.4" fill="#45b94f" text-anchor="middle" font-weight="normal" textLength="8.40" lengthAdjust="spacingAndGlyphs" stroke="#45b94f" stroke-width="0.1">254</text>
<text x="95.97" y="410.50" font-size="6.4" fill="#45b94f" text-anchor="middle" font-weight="normal" textLength="8.40" lengthAdjust="spacingAndGlyphs" stroke="#45b94f" stroke-width="0.1">136</text>
<text x="120.66" y="410.50" font-size="6.4" fill="#45b94f" text-anchor="middle" font-weight="normal" textLength="5.60" lengthAdjust="spacingAndGlyphs" stroke="#45b94f" stroke-width="0.1">74</text>
<text x="145.35" y="410.50" font-size="6.4" fill="#45b94f" text-anchor="middle" font-weight="normal" textLength="5.60" lengthAdjust="spacingAndGlyphs" stroke="#45b94f" stroke-width="0.1">50</text>
<text x="170.04" y="410.50" font-size="6.4" fill="#45b94f" text-anchor="middle" font-weight="normal" textLength="5.60" lengthAdjust="spacingAndGlyphs" stroke="#45b94f" stroke-width="0.1">38</text>
<text x="194.72" y="410.50" font-size="6.4" fill="#45b94f" text-anchor="middle" font-weight="normal" textLength="5.60" lengthAdjust="spacingAndGlyphs" stroke="#45b94f" stroke-width="0.1">27</text>
<text x="219.41" y="410.50" font-size="6.4" fill="#45b94f" text-anchor="middle" font-weight="normal" textLength="5.60" lengthAdjust="spacingAndGlyphs" stroke="#45b94f" stroke-width="0.1">23</text>
<text x="244.10" y="410.50" font-size="6.4" fill="#45b94f" text-anchor="middle" font-weight="normal" textLength="5.60" lengthAdjust="spacingAndGlyphs" stroke="#45b94f" stroke-width="0.1">18</text>
<polyline points="307.10,229.10 309.00,238.00 311.00,247.60 314.00,258.20 320.10,273.20 323.10,279.30 326.10,285.30 332.10,294.30 339.70,304.80 345.70,312.40 351.80,319.20 353.30,322.00 360.00,326.40 366.70,331.30 377.80,334.90 388.90,336.90 395.00,337.30 400.80,338.10 405.10,339.50 416.60,340.50 428.20,341.50 438.30,341.90 447.30,342.40 456.00,343.60 469.80,344.10 481.90,345.30 504.40,346.70 512.70,346.70" fill="none" stroke="#1b5292" stroke-width="1.3" stroke-linejoin="round" stroke-linecap="butt"/>
<polyline points="307.10,229.10 310.00,237.60 313.30,244.20 317.80,250.90 320.40,251.30 322.20,257.60 322.20,263.10 324.40,266.40 328.90,279.80 333.30,284.20 335.60,292.00 344.40,296.40 348.90,300.90 355.60,304.20 360.00,308.70 368.90,310.90 368.90,312.00 386.70,312.00 388.90,314.20 395.00,315.70 397.90,317.40 402.20,319.60 406.50,320.30 408.00,321.70 431.10,321.70 431.80,323.20 437.60,323.20 437.60,325.10 504.40,325.10 504.40,328.90 512.70,328.90" fill="none" stroke="#d0143a" stroke-width="1.3" stroke-linejoin="round" stroke-linecap="butt"/>
<path d="M299.60,223.00 H513.00 V363.50 H299.60 Z" fill="none" stroke="#1a1a1a" stroke-width="1.2"/>
<line x1="296.40" y1="359.20" x2="299.60" y2="359.20" stroke="#1a1a1a" stroke-width="1.2"/>
<text x="292.90" y="361.70" font-size="7.5" fill="#2a2a2a" text-anchor="end" font-weight="normal" stroke="#2a2a2a" stroke-width="0.1">0.00</text>
<line x1="296.40" y1="326.45" x2="299.60" y2="326.45" stroke="#1a1a1a" stroke-width="1.2"/>
<text x="292.90" y="328.95" font-size="7.5" fill="#2a2a2a" text-anchor="end" font-weight="normal" stroke="#2a2a2a" stroke-width="0.1">0.25</text>
<line x1="296.40" y1="293.70" x2="299.60" y2="293.70" stroke="#1a1a1a" stroke-width="1.2"/>
<text x="292.90" y="296.20" font-size="7.5" fill="#2a2a2a" text-anchor="end" font-weight="normal" stroke="#2a2a2a" stroke-width="0.1">0.50</text>
<line x1="296.40" y1="260.95" x2="299.60" y2="260.95" stroke="#1a1a1a" stroke-width="1.2"/>
<text x="292.90" y="263.45" font-size="7.5" fill="#2a2a2a" text-anchor="end" font-weight="normal" stroke="#2a2a2a" stroke-width="0.1">0.75</text>
<line x1="296.40" y1="228.20" x2="299.60" y2="228.20" stroke="#1a1a1a" stroke-width="1.2"/>
<text x="292.90" y="230.70" font-size="7.5" fill="#2a2a2a" text-anchor="end" font-weight="normal" stroke="#2a2a2a" stroke-width="0.1">1.00</text>
<line x1="307.20" y1="363.50" x2="307.20" y2="366.90" stroke="#1a1a1a" stroke-width="1.1"/>
<text x="307.20" y="375.80" font-size="7.2" fill="#2a2a2a" text-anchor="middle" font-weight="normal" stroke="#2a2a2a" stroke-width="0.1">0</text>
<line x1="326.94" y1="363.50" x2="326.94" y2="366.90" stroke="#1a1a1a" stroke-width="1.1"/>
<text x="326.94" y="375.80" font-size="7.2" fill="#2a2a2a" text-anchor="middle" font-weight="normal" stroke="#2a2a2a" stroke-width="0.1">6</text>
<line x1="346.68" y1="363.50" x2="346.68" y2="366.90" stroke="#1a1a1a" stroke-width="1.1"/>
<text x="346.68" y="375.80" font-size="7.2" fill="#2a2a2a" text-anchor="middle" font-weight="normal" stroke="#2a2a2a" stroke-width="0.1">12</text>
<line x1="366.42" y1="363.50" x2="366.42" y2="366.90" stroke="#1a1a1a" stroke-width="1.1"/>
<text x="366.42" y="375.80" font-size="7.2" fill="#2a2a2a" text-anchor="middle" font-weight="normal" stroke="#2a2a2a" stroke-width="0.1">18</text>
<line x1="386.16" y1="363.50" x2="386.16" y2="366.90" stroke="#1a1a1a" stroke-width="1.1"/>
<text x="386.16" y="375.80" font-size="7.2" fill="#2a2a2a" text-anchor="middle" font-weight="normal" stroke="#2a2a2a" stroke-width="0.1">24</text>
<line x1="405.90" y1="363.50" x2="405.90" y2="366.90" stroke="#1a1a1a" stroke-width="1.1"/>
<text x="405.90" y="375.80" font-size="7.2" fill="#2a2a2a" text-anchor="middle" font-weight="normal" stroke="#2a2a2a" stroke-width="0.1">30</text>
<line x1="425.64" y1="363.50" x2="425.64" y2="366.90" stroke="#1a1a1a" stroke-width="1.1"/>
<text x="425.64" y="375.80" font-size="7.2" fill="#2a2a2a" text-anchor="middle" font-weight="normal" stroke="#2a2a2a" stroke-width="0.1">36</text>
<line x1="445.38" y1="363.50" x2="445.38" y2="366.90" stroke="#1a1a1a" stroke-width="1.1"/>
<text x="445.38" y="375.80" font-size="7.2" fill="#2a2a2a" text-anchor="middle" font-weight="normal" stroke="#2a2a2a" stroke-width="0.1">42</text>
<line x1="465.12" y1="363.50" x2="465.12" y2="366.90" stroke="#1a1a1a" stroke-width="1.1"/>
<text x="465.12" y="375.80" font-size="7.2" fill="#2a2a2a" text-anchor="middle" font-weight="normal" stroke="#2a2a2a" stroke-width="0.1">48</text>
<line x1="484.86" y1="363.50" x2="484.86" y2="366.90" stroke="#1a1a1a" stroke-width="1.1"/>
<text x="484.86" y="375.80" font-size="7.2" fill="#2a2a2a" text-anchor="middle" font-weight="normal" stroke="#2a2a2a" stroke-width="0.1">54</text>
<line x1="504.60" y1="363.50" x2="504.60" y2="366.90" stroke="#1a1a1a" stroke-width="1.1"/>
<text x="504.60" y="375.80" font-size="7.2" fill="#2a2a2a" text-anchor="middle" font-weight="normal" stroke="#2a2a2a" stroke-width="0.1">60</text>
<text x="369.10" y="388.00" font-size="8.6" fill="#111" text-anchor="start" font-weight="bold" textLength="63.90" lengthAdjust="spacingAndGlyphs">Months after diagnosis</text>
<text transform="translate(273.20,290.00) rotate(-90)" x="0" y="0" font-size="8.0" font-weight="bold" fill="#111" text-anchor="middle" textLength="39.6" lengthAdjust="spacingAndGlyphs">OS Probability</text>
<text x="266.90" y="222.90" font-size="11.3" fill="#000" text-anchor="start" font-weight="bold">D</text>
<text x="273.10" y="399.20" font-size="6.5" fill="#d0143a" text-anchor="start" font-weight="normal" textLength="26.60" lengthAdjust="spacingAndGlyphs" stroke="#d0143a" stroke-width="0.1">NPM1mut</text>
<text x="307.20" y="399.40" font-size="6.4" fill="#d0143a" text-anchor="middle" font-weight="normal" textLength="8.40" lengthAdjust="spacingAndGlyphs" stroke="#d0143a" stroke-width="0.1">150</text>
<text x="326.94" y="399.40" font-size="6.4" fill="#d0143a" text-anchor="middle" font-weight="normal" textLength="5.60" lengthAdjust="spacingAndGlyphs" stroke="#d0143a" stroke-width="0.1">87</text>
<text x="346.68" y="399.40" font-size="6.4" fill="#d0143a" text-anchor="middle" font-weight="normal" textLength="5.60" lengthAdjust="spacingAndGlyphs" stroke="#d0143a" stroke-width="0.1">55</text>
<text x="366.42" y="399.40" font-size="6.4" fill="#d0143a" text-anchor="middle" font-weight="normal" textLength="5.60" lengthAdjust="spacingAndGlyphs" stroke="#d0143a" stroke-width="0.1">40</text>
<text x="386.16" y="399.40" font-size="6.4" fill="#d0143a" text-anchor="middle" font-weight="normal" textLength="5.60" lengthAdjust="spacingAndGlyphs" stroke="#d0143a" stroke-width="0.1">35</text>
<text x="405.90" y="399.40" font-size="6.4" fill="#d0143a" text-anchor="middle" font-weight="normal" textLength="5.60" lengthAdjust="spacingAndGlyphs" stroke="#d0143a" stroke-width="0.1">27</text>
<text x="425.64" y="399.40" font-size="6.4" fill="#d0143a" text-anchor="middle" font-weight="normal" textLength="5.60" lengthAdjust="spacingAndGlyphs" stroke="#d0143a" stroke-width="0.1">22</text>
<text x="445.38" y="399.40" font-size="6.4" fill="#d0143a" text-anchor="middle" font-weight="normal" textLength="5.60" lengthAdjust="spacingAndGlyphs" stroke="#d0143a" stroke-width="0.1">17</text>
<text x="465.12" y="399.40" font-size="6.4" fill="#d0143a" text-anchor="middle" font-weight="normal" textLength="5.60" lengthAdjust="spacingAndGlyphs" stroke="#d0143a" stroke-width="0.1">14</text>
<text x="484.86" y="399.40" font-size="6.4" fill="#d0143a" text-anchor="middle" font-weight="normal" textLength="5.60" lengthAdjust="spacingAndGlyphs" stroke="#d0143a" stroke-width="0.1">11</text>
<text x="504.60" y="399.40" font-size="6.4" fill="#d0143a" text-anchor="middle" font-weight="normal" textLength="2.80" lengthAdjust="spacingAndGlyphs" stroke="#d0143a" stroke-width="0.1">9</text>
<text x="276.20" y="406.90" font-size="6.5" fill="#1b5292" text-anchor="start" font-weight="normal" textLength="23.50" lengthAdjust="spacingAndGlyphs" stroke="#1b5292" stroke-width="0.1">NPM1wt</text>
<text x="307.20" y="407.10" font-size="6.4" fill="#1b5292" text-anchor="middle" font-weight="normal" textLength="8.40" lengthAdjust="spacingAndGlyphs" stroke="#1b5292" stroke-width="0.1">777</text>
<text x="326.94" y="407.10" font-size="6.4" fill="#1b5292" text-anchor="middle" font-weight="normal" textLength="8.40" lengthAdjust="spacingAndGlyphs" stroke="#1b5292" stroke-width="0.1">356</text>
<text x="346.68" y="407.10" font-size="6.4" fill="#1b5292" text-anchor="middle" font-weight="normal" textLength="8.40" lengthAdjust="spacingAndGlyphs" stroke="#1b5292" stroke-width="0.1">207</text>
<text x="366.42" y="407.10" font-size="6.4" fill="#1b5292" text-anchor="middle" font-weight="normal" textLength="8.40" lengthAdjust="spacingAndGlyphs" stroke="#1b5292" stroke-width="0.1">117</text>
<text x="386.16" y="407.10" font-size="6.4" fill="#1b5292" text-anchor="middle" font-weight="normal" textLength="5.60" lengthAdjust="spacingAndGlyphs" stroke="#1b5292" stroke-width="0.1">90</text>
<text x="405.90" y="407.10" font-size="6.4" fill="#1b5292" text-anchor="middle" font-weight="normal" textLength="5.60" lengthAdjust="spacingAndGlyphs" stroke="#1b5292" stroke-width="0.1">72</text>
<text x="425.64" y="407.10" font-size="6.4" fill="#1b5292" text-anchor="middle" font-weight="normal" textLength="5.60" lengthAdjust="spacingAndGlyphs" stroke="#1b5292" stroke-width="0.1">56</text>
<text x="445.38" y="407.10" font-size="6.4" fill="#1b5292" text-anchor="middle" font-weight="normal" textLength="5.60" lengthAdjust="spacingAndGlyphs" stroke="#1b5292" stroke-width="0.1">49</text>
<text x="465.12" y="407.10" font-size="6.4" fill="#1b5292" text-anchor="middle" font-weight="normal" textLength="5.60" lengthAdjust="spacingAndGlyphs" stroke="#1b5292" stroke-width="0.1">40</text>
<text x="484.86" y="407.10" font-size="6.4" fill="#1b5292" text-anchor="middle" font-weight="normal" textLength="5.60" lengthAdjust="spacingAndGlyphs" stroke="#1b5292" stroke-width="0.1">34</text>
<text x="504.60" y="407.10" font-size="6.4" fill="#1b5292" text-anchor="middle" font-weight="normal" textLength="5.60" lengthAdjust="spacingAndGlyphs" stroke="#1b5292" stroke-width="0.1">26</text>
<polyline points="50.40,437.40 53.60,452.50 57.50,465.20 60.70,474.70 65.50,484.20 70.20,493.70 76.60,501.70 82.90,510.40 89.30,516.00 95.60,523.90 98.00,526.30 105.00,531.80 116.10,536.70 125.00,539.10 133.70,541.60 143.80,543.00 153.90,544.90 174.10,545.90 181.30,546.90 190.00,547.60 213.60,548.30 223.60,549.90 230.40,550.70 239.80,551.80 247.90,552.70 256.00,552.70" fill="none" stroke="#1b5292" stroke-width="1.3" stroke-linejoin="round" stroke-linecap="butt"/>
<polyline points="50.40,437.40 50.55,437.40 50.55,439.20 50.69,439.20 50.69,441.00 50.86,441.00 50.86,443.10 51.01,443.10 51.01,444.90 51.16,444.90 51.16,446.70 51.30,446.70 51.30,448.50 51.48,448.50 51.48,450.60 51.50,450.60 51.50,450.90 52.23,450.90 52.23,452.95 52.95,452.95 52.95,455.00 53.68,455.00 53.68,457.04 54.30,457.04 54.30,458.80 55.05,458.80 55.05,460.78 55.79,460.78 55.79,462.75 56.54,462.75 56.54,464.73 57.29,464.73 57.29,466.70 58.03,466.70 58.03,468.68 58.78,468.68 58.78,470.65 59.10,470.65 59.10,471.50 62.30,471.50 62.30,472.30 62.89,472.30 62.89,474.36 63.48,474.36 63.48,476.43 63.90,476.43 63.90,477.90 64.56,477.90 64.56,479.92 65.22,479.92 65.22,481.93 65.87,481.93 65.87,483.95 66.53,483.95 66.53,485.96 67.00,485.96 67.00,487.40 67.62,487.40 67.62,489.45 68.24,489.45 68.24,491.50 68.87,491.50 68.87,493.54 69.40,493.54 69.40,495.30 69.86,495.30 69.86,497.13 70.31,497.13 70.31,498.96 70.77,498.96 70.77,500.79 71.00,500.79 71.00,501.70 71.27,501.70 71.27,503.53 71.53,503.53 71.53,505.37 71.80,505.37 71.80,507.20 75.00,507.20 75.00,508.80 75.80,508.80 75.80,510.80 76.60,510.80 76.60,512.80 78.37,512.80 78.37,514.63 79.70,514.63 79.70,516.00 82.90,516.00 82.90,516.70 84.25,516.70 84.25,518.72 85.59,518.72 85.59,520.74 86.10,520.74 86.10,521.50 86.45,521.50 86.45,523.60 86.80,523.60 86.80,525.70 86.90,525.70 86.90,526.30 90.10,526.30 90.10,527.10 93.22,527.10 93.22,528.94 94.00,528.94 94.00,529.40 96.78,529.40 96.78,531.21 98.30,531.21 98.30,532.20 108.16,532.20 108.16,534.12 113.31,534.12 113.31,536.01 117.20,536.01 117.20,537.85 118.30,537.85 118.30,538.40 130.10,538.40 130.10,538.70 131.44,538.70 131.44,540.55 132.20,540.55 132.20,541.60 138.00,541.60 138.00,542.30 140.42,542.30 140.42,544.13 140.90,544.13 140.90,544.50 141.60,544.50 141.60,546.40 174.80,546.40 174.80,548.27 174.80,548.27 174.80,549.20 256.00,549.20" fill="none" stroke="#d0143a" stroke-width="1.3" stroke-linejoin="round" stroke-linecap="butt"/>
<path d="M42.50,431.50 H256.00 V572.00 H42.50 Z" fill="none" stroke="#1a1a1a" stroke-width="1.2"/>
<line x1="39.30" y1="568.20" x2="42.50" y2="568.20" stroke="#1a1a1a" stroke-width="1.2"/>
<text x="35.80" y="570.70" font-size="7.5" fill="#2a2a2a" text-anchor="end" font-weight="normal" stroke="#2a2a2a" stroke-width="0.1">0.00</text>
<line x1="39.30" y1="535.33" x2="42.50" y2="535.33" stroke="#1a1a1a" stroke-width="1.2"/>
<text x="35.80" y="537.83" font-size="7.5" fill="#2a2a2a" text-anchor="end" font-weight="normal" stroke="#2a2a2a" stroke-width="0.1">0.25</text>
<line x1="39.30" y1="502.45" x2="42.50" y2="502.45" stroke="#1a1a1a" stroke-width="1.2"/>
<text x="35.80" y="504.95" font-size="7.5" fill="#2a2a2a" text-anchor="end" font-weight="normal" stroke="#2a2a2a" stroke-width="0.1">0.50</text>
<line x1="39.30" y1="469.57" x2="42.50" y2="469.57" stroke="#1a1a1a" stroke-width="1.2"/>
<text x="35.80" y="472.07" font-size="7.5" fill="#2a2a2a" text-anchor="end" font-weight="normal" stroke="#2a2a2a" stroke-width="0.1">0.75</text>
<line x1="39.30" y1="436.70" x2="42.50" y2="436.70" stroke="#1a1a1a" stroke-width="1.2"/>
<text x="35.80" y="439.20" font-size="7.5" fill="#2a2a2a" text-anchor="end" font-weight="normal" stroke="#2a2a2a" stroke-width="0.1">1.00</text>
<line x1="50.00" y1="572.00" x2="50.00" y2="575.40" stroke="#1a1a1a" stroke-width="1.1"/>
<text x="50.00" y="585.50" font-size="7.2" fill="#2a2a2a" text-anchor="middle" font-weight="normal" stroke="#2a2a2a" stroke-width="0.1">0</text>
<line x1="69.83" y1="572.00" x2="69.83" y2="575.40" stroke="#1a1a1a" stroke-width="1.1"/>
<text x="69.83" y="585.50" font-size="7.2" fill="#2a2a2a" text-anchor="middle" font-weight="normal" stroke="#2a2a2a" stroke-width="0.1">6</text>
<line x1="89.66" y1="572.00" x2="89.66" y2="575.40" stroke="#1a1a1a" stroke-width="1.1"/>
<text x="89.66" y="585.50" font-size="7.2" fill="#2a2a2a" text-anchor="middle" font-weight="normal" stroke="#2a2a2a" stroke-width="0.1">12</text>
<line x1="109.49" y1="572.00" x2="109.49" y2="575.40" stroke="#1a1a1a" stroke-width="1.1"/>
<text x="109.49" y="585.50" font-size="7.2" fill="#2a2a2a" text-anchor="middle" font-weight="normal" stroke="#2a2a2a" stroke-width="0.1">18</text>
<line x1="129.32" y1="572.00" x2="129.32" y2="575.40" stroke="#1a1a1a" stroke-width="1.1"/>
<text x="129.32" y="585.50" font-size="7.2" fill="#2a2a2a" text-anchor="middle" font-weight="normal" stroke="#2a2a2a" stroke-width="0.1">24</text>
<line x1="149.15" y1="572.00" x2="149.15" y2="575.40" stroke="#1a1a1a" stroke-width="1.1"/>
<text x="149.15" y="585.50" font-size="7.2" fill="#2a2a2a" text-anchor="middle" font-weight="normal" stroke="#2a2a2a" stroke-width="0.1">30</text>
<line x1="168.98" y1="572.00" x2="168.98" y2="575.40" stroke="#1a1a1a" stroke-width="1.1"/>
<text x="168.98" y="585.50" font-size="7.2" fill="#2a2a2a" text-anchor="middle" font-weight="normal" stroke="#2a2a2a" stroke-width="0.1">36</text>
<line x1="188.81" y1="572.00" x2="188.81" y2="575.40" stroke="#1a1a1a" stroke-width="1.1"/>
<text x="188.81" y="585.50" font-size="7.2" fill="#2a2a2a" text-anchor="middle" font-weight="normal" stroke="#2a2a2a" stroke-width="0.1">42</text>
<line x1="208.64" y1="572.00" x2="208.64" y2="575.40" stroke="#1a1a1a" stroke-width="1.1"/>
<text x="208.64" y="585.50" font-size="7.2" fill="#2a2a2a" text-anchor="middle" font-weight="normal" stroke="#2a2a2a" stroke-width="0.1">48</text>
<line x1="228.47" y1="572.00" x2="228.47" y2="575.40" stroke="#1a1a1a" stroke-width="1.1"/>
<text x="228.47" y="585.50" font-size="7.2" fill="#2a2a2a" text-anchor="middle" font-weight="normal" stroke="#2a2a2a" stroke-width="0.1">54</text>
<line x1="248.30" y1="572.00" x2="248.30" y2="575.40" stroke="#1a1a1a" stroke-width="1.1"/>
<text x="248.30" y="585.50" font-size="7.2" fill="#2a2a2a" text-anchor="middle" font-weight="normal" stroke="#2a2a2a" stroke-width="0.1">60</text>
<text x="116.90" y="596.90" font-size="8.6" fill="#111" text-anchor="start" font-weight="bold" textLength="64.30" lengthAdjust="spacingAndGlyphs">Months after diagnosis</text>
<text transform="translate(13.80,502.90) rotate(-90)" x="0" y="0" font-size="8.0" font-weight="bold" fill="#111" text-anchor="middle" textLength="39.6" lengthAdjust="spacingAndGlyphs">OS Probability</text>
<text x="7.50" y="430.40" font-size="11.3" fill="#000" text-anchor="start" font-weight="bold">E</text>
<text x="10.00" y="607.70" font-size="6.5" fill="#d0143a" text-anchor="start" font-weight="normal" textLength="31.80" lengthAdjust="spacingAndGlyphs" stroke="#d0143a" stroke-width="0.1">FLT3ITDmut</text>
<text x="50.00" y="607.90" font-size="6.4" fill="#d0143a" text-anchor="middle" font-weight="normal" textLength="8.40" lengthAdjust="spacingAndGlyphs" stroke="#d0143a" stroke-width="0.1">112</text>
<text x="69.83" y="607.90" font-size="6.4" fill="#d0143a" text-anchor="middle" font-weight="normal" textLength="5.60" lengthAdjust="spacingAndGlyphs" stroke="#d0143a" stroke-width="0.1">52</text>
<text x="89.66" y="607.90" font-size="6.4" fill="#d0143a" text-anchor="middle" font-weight="normal" textLength="5.60" lengthAdjust="spacingAndGlyphs" stroke="#d0143a" stroke-width="0.1">27</text>
<text x="109.49" y="607.90" font-size="6.4" fill="#d0143a" text-anchor="middle" font-weight="normal" textLength="5.60" lengthAdjust="spacingAndGlyphs" stroke="#d0143a" stroke-width="0.1">20</text>
<text x="129.32" y="607.90" font-size="6.4" fill="#d0143a" text-anchor="middle" font-weight="normal" textLength="5.60" lengthAdjust="spacingAndGlyphs" stroke="#d0143a" stroke-width="0.1">16</text>
<text x="149.15" y="607.90" font-size="6.4" fill="#d0143a" text-anchor="middle" font-weight="normal" textLength="5.60" lengthAdjust="spacingAndGlyphs" stroke="#d0143a" stroke-width="0.1">11</text>
<text x="168.98" y="607.90" font-size="6.4" fill="#d0143a" text-anchor="middle" font-weight="normal" textLength="2.80" lengthAdjust="spacingAndGlyphs" stroke="#d0143a" stroke-width="0.1">9</text>
<text x="188.81" y="607.90" font-size="6.4" fill="#d0143a" text-anchor="middle" font-weight="normal" textLength="2.80" lengthAdjust="spacingAndGlyphs" stroke="#d0143a" stroke-width="0.1">7</text>
<text x="208.64" y="607.90" font-size="6.4" fill="#d0143a" text-anchor="middle" font-weight="normal" textLength="2.80" lengthAdjust="spacingAndGlyphs" stroke="#d0143a" stroke-width="0.1">6</text>
<text x="228.47" y="607.90" font-size="6.4" fill="#d0143a" text-anchor="middle" font-weight="normal" textLength="2.80" lengthAdjust="spacingAndGlyphs" stroke="#d0143a" stroke-width="0.1">4</text>
<text x="248.30" y="607.90" font-size="6.4" fill="#d0143a" text-anchor="middle" font-weight="normal" textLength="2.80" lengthAdjust="spacingAndGlyphs" stroke="#d0143a" stroke-width="0.1">4</text>
<text x="13.80" y="615.80" font-size="6.5" fill="#1b5292" text-anchor="start" font-weight="normal" textLength="28.00" lengthAdjust="spacingAndGlyphs" stroke="#1b5292" stroke-width="0.1">FLT3ITDwt</text>
<text x="50.00" y="616.00" font-size="6.4" fill="#1b5292" text-anchor="middle" font-weight="normal" textLength="8.40" lengthAdjust="spacingAndGlyphs" stroke="#1b5292" stroke-width="0.1">878</text>
<text x="69.83" y="616.00" font-size="6.4" fill="#1b5292" text-anchor="middle" font-weight="normal" textLength="8.40" lengthAdjust="spacingAndGlyphs" stroke="#1b5292" stroke-width="0.1">432</text>
<text x="89.66" y="616.00" font-size="6.4" fill="#1b5292" text-anchor="middle" font-weight="normal" textLength="8.40" lengthAdjust="spacingAndGlyphs" stroke="#1b5292" stroke-width="0.1">266</text>
<text x="109.49" y="616.00" font-size="6.4" fill="#1b5292" text-anchor="middle" font-weight="normal" textLength="8.40" lengthAdjust="spacingAndGlyphs" stroke="#1b5292" stroke-width="0.1">158</text>
<text x="129.32" y="616.00" font-size="6.4" fill="#1b5292" text-anchor="middle" font-weight="normal" textLength="8.40" lengthAdjust="spacingAndGlyphs" stroke="#1b5292" stroke-width="0.1">121</text>
<text x="149.15" y="616.00" font-size="6.4" fill="#1b5292" text-anchor="middle" font-weight="normal" textLength="5.60" lengthAdjust="spacingAndGlyphs" stroke="#1b5292" stroke-width="0.1">98</text>
<text x="168.98" y="616.00" font-size="6.4" fill="#1b5292" text-anchor="middle" font-weight="normal" textLength="5.60" lengthAdjust="spacingAndGlyphs" stroke="#1b5292" stroke-width="0.1">78</text>
<text x="188.81" y="616.00" font-size="6.4" fill="#1b5292" text-anchor="middle" font-weight="normal" textLength="5.60" lengthAdjust="spacingAndGlyphs" stroke="#1b5292" stroke-width="0.1">67</text>
<text x="208.64" y="616.00" font-size="6.4" fill="#1b5292" text-anchor="middle" font-weight="normal" textLength="5.60" lengthAdjust="spacingAndGlyphs" stroke="#1b5292" stroke-width="0.1">55</text>
<text x="228.47" y="616.00" font-size="6.4" fill="#1b5292" text-anchor="middle" font-weight="normal" textLength="5.60" lengthAdjust="spacingAndGlyphs" stroke="#1b5292" stroke-width="0.1">46</text>
<text x="248.30" y="616.00" font-size="6.4" fill="#1b5292" text-anchor="middle" font-weight="normal" textLength="5.60" lengthAdjust="spacingAndGlyphs" stroke="#1b5292" stroke-width="0.1">34</text>
<polyline points="311.90,435.80 312.01,435.80 312.01,437.30 312.12,437.30 312.12,438.80 312.24,438.80 312.24,440.30 312.35,440.30 312.35,441.80 312.46,441.80 312.46,443.30 312.57,443.30 312.57,444.80 312.68,444.80 312.68,446.30 312.79,446.30 312.79,447.80 312.91,447.80 312.91,449.30 313.02,449.30 313.02,450.80 313.13,450.80 313.13,452.30 313.24,452.30 313.24,453.80 313.35,453.80 313.35,455.30 313.47,455.30 313.47,456.80 313.58,456.80 313.58,458.30 313.60,458.30 313.60,458.60 314.25,458.60 314.25,460.31 314.89,460.31 314.89,462.02 315.54,462.02 315.54,463.73 316.18,463.73 316.18,465.44 316.82,465.44 316.82,467.15 317.47,467.15 317.47,468.86 317.90,468.86 317.90,470.00 318.71,470.00 318.71,471.63 319.53,471.63 319.53,473.26 320.34,473.26 320.34,474.89 321.16,474.89 321.16,476.51 321.97,476.51 321.97,478.14 322.79,478.14 322.79,479.77 323.60,479.77 323.60,481.40 324.61,481.40 324.61,482.92 325.61,482.92 325.61,484.44 326.62,484.44 326.62,485.95 327.62,485.95 327.62,487.47 328.63,487.47 328.63,488.99 329.30,488.99 329.30,490.00 330.72,490.00 330.72,491.60 332.14,491.60 332.14,493.20 333.56,493.20 333.56,494.80 334.98,494.80 334.98,496.40 336.40,496.40 336.40,498.00 337.91,498.00 337.91,499.51 339.20,499.51 339.20,500.80 341.16,500.80 341.16,502.36 343.11,502.36 343.11,503.91 343.60,503.91 343.60,504.30 347.64,504.30 347.64,505.86 348.50,505.86 348.50,506.20 350.70,506.20 350.70,507.86 352.89,507.86 352.89,509.51 354.60,509.51 354.60,510.80 358.50,510.80 358.50,511.50 359.32,511.50 359.32,513.19 360.00,513.19 360.00,514.60 364.20,514.60 364.20,516.20 370.40,516.20 370.40,516.90 374.71,516.90 374.71,518.40 381.20,518.40 381.20,519.20 390.10,519.20 390.10,520.75 392.73,520.75 392.73,522.30 393.50,522.30 393.50,522.80 398.10,522.80 398.10,523.80 405.80,523.80 405.80,524.90 441.20,524.90 441.20,525.50 447.20,525.50 447.20,527.07 454.33,527.07 454.33,528.59 457.30,528.59 457.30,529.20 475.80,529.20 475.80,530.10 496.50,530.10 496.50,531.50 512.70,531.50" fill="none" stroke="#1f6f56" stroke-width="1.3" stroke-linejoin="round" stroke-linecap="butt"/>
<polyline points="311.20,435.80 311.50,435.80 311.50,437.58 311.79,437.58 311.79,439.36 312.09,439.36 312.09,441.14 312.39,441.14 312.39,442.92 312.68,442.92 312.68,444.69 312.98,444.69 312.98,446.47 313.28,446.47 313.28,448.25 313.57,448.25 313.57,450.03 313.87,450.03 313.87,451.81 314.16,451.81 314.16,453.59 314.46,453.59 314.46,455.37 314.76,455.37 314.76,457.15 315.05,457.15 315.05,458.92 315.35,458.92 315.35,460.70 315.91,460.70 315.91,462.44 316.52,462.44 316.52,464.18 317.14,464.18 317.14,465.91 317.75,465.91 317.75,467.64 318.36,467.64 318.36,469.38 318.98,469.38 318.98,471.11 319.59,471.11 319.59,472.84 320.00,472.84 320.00,474.00 320.97,474.00 320.97,475.55 321.94,475.55 321.94,477.10 322.90,477.10 322.90,478.65 323.87,478.65 323.87,480.19 324.84,480.19 324.84,481.74 326.11,481.74 326.11,483.44 327.41,483.44 327.41,485.13 328.70,485.13 328.70,486.81 330.00,486.81 330.00,488.50 331.92,488.50 331.92,490.05 333.60,490.05 333.60,491.40 334.97,491.40 334.97,493.10 336.33,493.10 336.33,494.80 337.70,494.80 337.70,496.50 339.66,496.50 339.66,498.06 341.61,498.06 341.61,499.61 342.10,499.61 342.10,500.00 343.75,500.00 343.75,501.50 345.40,501.50 345.40,503.00 347.57,503.00 347.57,504.68 349.74,504.68 349.74,506.35 350.70,506.35 350.70,507.10 353.30,507.10 353.30,508.70 354.60,508.70 354.60,509.50 355.55,509.50 355.55,511.03 356.50,511.03 356.50,512.56 357.46,512.56 357.46,514.09 358.41,514.09 358.41,515.62 359.20,515.62 359.20,516.90 361.34,516.90 361.34,518.54 363.49,518.54 363.49,520.18 365.63,520.18 365.63,521.82 367.30,521.82 367.30,523.10 372.55,523.10 372.55,524.61 377.81,524.61 377.81,526.12 385.50,526.12 385.50,527.64 405.80,527.64 405.80,528.20 412.32,528.20 412.32,529.72 420.02,529.72 420.02,531.27 437.26,531.27 437.26,532.78 441.20,532.78 441.20,533.10 459.60,533.10 459.60,534.20 487.30,534.20 487.30,534.70 498.80,534.70 498.80,535.80 512.70,535.80" fill="none" stroke="#f7961f" stroke-width="1.3" stroke-linejoin="round" stroke-linecap="butt"/>
<polyline points="311.20,435.80 311.44,435.80 311.44,437.59 311.68,437.59 311.68,439.38 311.91,439.38 311.91,441.17 312.15,441.17 312.15,442.96 312.39,442.96 312.39,444.75 312.63,444.75 312.63,446.54 312.87,446.54 312.87,448.33 313.10,448.33 313.10,450.12 313.34,450.12 313.34,451.91 313.50,451.91 313.50,453.10 314.00,453.10 314.00,454.85 314.49,454.85 314.49,456.60 314.99,456.60 314.99,458.34 315.48,458.34 315.48,460.09 315.98,460.09 315.98,461.84 316.47,461.84 316.47,463.59 316.97,463.59 316.97,465.33 317.30,465.33 317.30,466.50 318.03,466.50 318.03,468.19 318.75,468.19 318.75,469.88 319.48,469.88 319.48,471.56 320.20,471.56 320.20,473.25 320.93,473.25 320.93,474.94 321.65,474.94 321.65,476.62 322.38,476.62 322.38,478.31 323.10,478.31 323.10,480.00 324.01,480.00 324.01,481.59 324.91,481.59 324.91,483.18 325.82,483.18 325.82,484.76 326.72,484.76 326.72,486.35 327.63,486.35 327.63,487.94 328.54,487.94 328.54,489.53 329.44,489.53 329.44,491.12 330.35,491.12 330.35,492.71 330.80,492.71 330.80,493.50 332.05,493.50 332.05,495.21 333.31,495.21 333.31,496.92 334.56,496.92 334.56,498.63 335.81,498.63 335.81,500.34 337.07,500.34 337.07,502.05 338.32,502.05 338.32,503.76 339.84,503.76 339.84,505.26 341.63,505.26 341.63,506.93 343.41,506.93 343.41,508.60 345.20,508.60 345.20,510.28 346.98,510.28 346.98,511.95 348.10,511.95 348.10,513.00 350.37,513.00 350.37,514.54 352.65,514.54 352.65,516.08 354.92,516.08 354.92,517.62 357.19,517.62 357.19,519.16 357.70,519.16 357.70,519.50 360.99,519.50 360.99,521.11 364.28,521.11 364.28,522.72 367.30,522.72 367.30,524.20 371.66,524.20 371.66,525.70 376.03,525.70 376.03,527.20 381.96,527.20 381.96,528.76 388.20,528.76 388.20,530.33 398.79,530.33 398.79,531.83 407.15,531.83 407.15,533.36 415.20,533.36 415.20,534.89 433.64,534.89 433.64,536.40 441.20,536.40 441.20,537.00 458.45,537.00 458.45,538.50 464.20,538.50 464.20,539.00 482.70,539.00 482.70,540.50 512.70,540.50 512.70,540.90 512.70,540.90" fill="none" stroke="#1b5292" stroke-width="1.3" stroke-linejoin="round" stroke-linecap="butt"/>
<polyline points="311.20,435.80 311.29,435.80 311.29,437.30 311.37,437.30 311.37,438.80 311.46,438.80 311.46,440.30 311.55,440.30 311.55,441.80 311.63,441.80 311.63,443.30 311.72,443.30 311.72,444.80 311.81,444.80 311.81,446.30 311.89,446.30 311.89,447.80 312.00,447.80 312.00,449.60 312.08,449.60 312.08,451.10 312.10,451.10 312.10,451.40 312.58,451.40 312.58,453.17 313.07,453.17 313.07,454.93 313.55,454.93 313.55,456.70 314.03,456.70 314.03,458.47 314.52,458.47 314.52,460.23 315.00,460.23 315.00,462.00 315.66,462.00 315.66,463.68 316.32,463.68 316.32,465.35 316.98,465.35 316.98,467.03 317.65,467.03 317.65,468.71 318.31,468.71 318.31,470.38 318.97,470.38 318.97,472.06 319.30,472.06 319.30,472.90 319.90,472.90 319.90,474.62 320.50,474.62 320.50,476.34 321.10,476.34 321.10,478.06 321.70,478.06 321.70,479.78 322.30,479.78 322.30,481.51 322.90,481.51 322.90,483.23 323.10,483.23 323.10,483.80 323.99,483.80 323.99,485.36 324.89,485.36 324.89,486.93 325.78,486.93 325.78,488.49 326.68,488.49 326.68,490.06 327.57,490.06 327.57,491.62 328.46,491.62 328.46,493.19 329.36,493.19 329.36,494.75 330.25,494.75 330.25,496.32 330.70,496.32 330.70,497.10 331.70,497.10 331.70,498.63 332.70,498.63 332.70,500.15 333.70,500.15 333.70,501.68 334.70,501.68 334.70,503.21 335.70,503.21 335.70,504.74 336.20,504.74 336.20,505.50 337.73,505.50 337.73,507.00 339.27,507.00 339.27,508.50 340.80,508.50 340.80,510.00 342.33,510.00 342.33,511.50 343.87,511.50 343.87,513.00 345.40,513.00 345.40,514.50 347.69,514.50 347.69,516.00 349.98,516.00 349.98,517.50 351.50,517.50 351.50,518.50 355.42,518.50 355.42,520.11 359.34,520.11 359.34,521.72 362.70,521.72 362.70,523.10 366.00,523.10 366.00,524.73 369.30,524.73 369.30,526.36 370.40,526.36 370.40,526.90 375.43,526.90 375.43,528.40 378.10,528.40 378.10,529.20 385.50,529.20 385.50,530.74 393.20,530.74 393.20,532.24 405.80,532.24 405.80,533.10 409.79,533.10 409.79,534.71 413.50,534.71 413.50,536.20 435.00,536.20 435.00,536.90 458.18,536.90 458.18,538.41 464.20,538.41 464.20,538.80 482.70,538.80 482.70,540.00 496.50,540.00 496.50,540.70 512.70,540.70" fill="none" stroke="#5e2a86" stroke-width="1.3" stroke-linejoin="round" stroke-linecap="butt"/>
<polyline points="312.00,435.80 312.21,435.80 312.21,437.59 312.42,437.59 312.42,439.38 312.64,439.38 312.64,441.16 312.85,441.16 312.85,442.95 313.06,442.95 313.06,444.74 313.27,444.74 313.27,446.53 313.48,446.53 313.48,448.32 313.69,448.32 313.69,450.11 313.80,450.11 313.80,451.00 314.20,451.00 314.20,452.79 314.61,452.79 314.61,454.58 315.01,454.58 315.01,456.37 315.42,456.37 315.42,458.15 315.82,458.15 315.82,459.94 316.22,459.94 316.22,461.73 316.63,461.73 316.63,463.52 317.03,463.52 317.03,465.31 317.30,465.31 317.30,466.50 317.86,466.50 317.86,468.22 318.43,468.22 318.43,469.94 318.99,469.94 318.99,471.66 319.56,471.66 319.56,473.38 320.12,473.38 320.12,475.10 320.69,475.10 320.69,476.82 321.25,476.82 321.25,478.54 321.81,478.54 321.81,480.26 322.38,480.26 322.38,481.97 322.94,481.97 322.94,483.69 323.51,483.69 323.51,485.41 324.49,485.41 324.49,486.94 325.73,486.94 325.73,488.67 326.98,488.67 326.98,490.40 328.22,490.40 328.22,492.13 329.47,492.13 329.47,493.86 330.00,493.86 330.00,494.60 331.03,494.60 331.03,496.14 332.06,496.14 332.06,497.69 333.09,497.69 333.09,499.23 333.60,499.23 333.60,500.00 335.04,500.00 335.04,501.61 336.47,501.61 336.47,503.22 337.70,503.22 337.70,504.60 339.04,504.60 339.04,506.24 340.38,506.24 340.38,507.89 341.72,507.89 341.72,509.53 342.10,509.53 342.10,510.00 344.38,510.00 344.38,511.59 345.40,511.59 345.40,512.30 347.24,512.30 347.24,513.97 349.09,513.97 349.09,515.64 350.70,515.64 350.70,517.10 356.20,517.10 356.20,518.50 359.59,518.50 359.59,520.07 362.70,520.07 362.70,521.50 365.72,521.50 365.72,523.03 368.75,523.03 368.75,524.56 370.40,524.56 370.40,525.40 375.43,525.40 375.43,526.90 378.10,526.90 378.10,527.70 385.23,527.70 385.23,529.23 388.80,529.23 388.80,530.00 392.03,530.00 392.03,531.62 395.00,531.62 395.00,533.10 411.90,533.10 411.90,534.60 426.39,534.60 426.39,536.11 427.30,536.11 427.30,537.50 464.20,537.50 464.20,538.50 478.22,538.50 478.22,540.02 482.70,540.02 482.70,540.50 497.11,540.50 497.11,542.10 497.20,542.10 497.20,543.30 512.70,543.30" fill="none" stroke="#45b94f" stroke-width="1.3" stroke-linejoin="round" stroke-linecap="butt"/>
<polyline points="311.90,435.80 313.60,458.60 317.90,470.00 323.60,481.40 329.30,490.00 336.40,498.00 339.20,500.80 343.60,504.30 348.50,506.20 354.60,510.80" fill="none" stroke="#111" stroke-width="1.3" stroke-linejoin="round" stroke-linecap="butt"/>
<polyline points="311.20,435.70 313.60,444.30 316.40,455.70 320.70,462.90 326.40,470.00 330.00,474.60 339.20,483.10 348.50,491.50 357.70,497.70 368.50,502.30 379.20,506.90 391.50,510.00 410.00,513.10 416.50,513.80 435.00,516.20 441.20,516.90 464.20,518.10 487.30,519.70 501.20,521.10 512.70,521.10" fill="none" stroke="#d0143a" stroke-width="1.3" stroke-linejoin="round" stroke-linecap="butt"/>
<path d="M303.60,429.80 H513.40 V552.50 H303.60 Z" fill="none" stroke="#1a1a1a" stroke-width="1.2"/>
<line x1="300.40" y1="547.80" x2="303.60" y2="547.80" stroke="#1a1a1a" stroke-width="1.2"/>
<text x="297.50" y="550.30" font-size="7.5" fill="#2a2a2a" text-anchor="end" font-weight="normal" stroke="#2a2a2a" stroke-width="0.1">0.00</text>
<line x1="300.40" y1="519.40" x2="303.60" y2="519.40" stroke="#1a1a1a" stroke-width="1.2"/>
<text x="297.50" y="521.90" font-size="7.5" fill="#2a2a2a" text-anchor="end" font-weight="normal" stroke="#2a2a2a" stroke-width="0.1">0.25</text>
<line x1="300.40" y1="491.00" x2="303.60" y2="491.00" stroke="#1a1a1a" stroke-width="1.2"/>
<text x="297.50" y="493.50" font-size="7.5" fill="#2a2a2a" text-anchor="end" font-weight="normal" stroke="#2a2a2a" stroke-width="0.1">0.50</text>
<line x1="300.40" y1="462.60" x2="303.60" y2="462.60" stroke="#1a1a1a" stroke-width="1.2"/>
<text x="297.50" y="465.10" font-size="7.5" fill="#2a2a2a" text-anchor="end" font-weight="normal" stroke="#2a2a2a" stroke-width="0.1">0.75</text>
<line x1="300.40" y1="434.20" x2="303.60" y2="434.20" stroke="#1a1a1a" stroke-width="1.2"/>
<text x="297.50" y="436.70" font-size="7.5" fill="#2a2a2a" text-anchor="end" font-weight="normal" stroke="#2a2a2a" stroke-width="0.1">1.00</text>
<line x1="311.20" y1="552.50" x2="311.20" y2="555.90" stroke="#1a1a1a" stroke-width="1.1"/>
<text x="311.20" y="564.70" font-size="7.2" fill="#2a2a2a" text-anchor="middle" font-weight="normal" stroke="#2a2a2a" stroke-width="0.1">0</text>
<line x1="330.62" y1="552.50" x2="330.62" y2="555.90" stroke="#1a1a1a" stroke-width="1.1"/>
<text x="330.62" y="564.70" font-size="7.2" fill="#2a2a2a" text-anchor="middle" font-weight="normal" stroke="#2a2a2a" stroke-width="0.1">6</text>
<line x1="350.04" y1="552.50" x2="350.04" y2="555.90" stroke="#1a1a1a" stroke-width="1.1"/>
<text x="350.04" y="564.70" font-size="7.2" fill="#2a2a2a" text-anchor="middle" font-weight="normal" stroke="#2a2a2a" stroke-width="0.1">12</text>
<line x1="369.46" y1="552.50" x2="369.46" y2="555.90" stroke="#1a1a1a" stroke-width="1.1"/>
<text x="369.46" y="564.70" font-size="7.2" fill="#2a2a2a" text-anchor="middle" font-weight="normal" stroke="#2a2a2a" stroke-width="0.1">18</text>
<line x1="388.88" y1="552.50" x2="388.88" y2="555.90" stroke="#1a1a1a" stroke-width="1.1"/>
<text x="388.88" y="564.70" font-size="7.2" fill="#2a2a2a" text-anchor="middle" font-weight="normal" stroke="#2a2a2a" stroke-width="0.1">24</text>
<line x1="408.30" y1="552.50" x2="408.30" y2="555.90" stroke="#1a1a1a" stroke-width="1.1"/>
<text x="408.30" y="564.70" font-size="7.2" fill="#2a2a2a" text-anchor="middle" font-weight="normal" stroke="#2a2a2a" stroke-width="0.1">30</text>
<line x1="427.72" y1="552.50" x2="427.72" y2="555.90" stroke="#1a1a1a" stroke-width="1.1"/>
<text x="427.72" y="564.70" font-size="7.2" fill="#2a2a2a" text-anchor="middle" font-weight="normal" stroke="#2a2a2a" stroke-width="0.1">36</text>
<line x1="447.14" y1="552.50" x2="447.14" y2="555.90" stroke="#1a1a1a" stroke-width="1.1"/>
<text x="447.14" y="564.70" font-size="7.2" fill="#2a2a2a" text-anchor="middle" font-weight="normal" stroke="#2a2a2a" stroke-width="0.1">42</text>
<line x1="466.56" y1="552.50" x2="466.56" y2="555.90" stroke="#1a1a1a" stroke-width="1.1"/>
<text x="466.56" y="564.70" font-size="7.2" fill="#2a2a2a" text-anchor="middle" font-weight="normal" stroke="#2a2a2a" stroke-width="0.1">48</text>
<line x1="485.98" y1="552.50" x2="485.98" y2="555.90" stroke="#1a1a1a" stroke-width="1.1"/>
<text x="485.98" y="564.70" font-size="7.2" fill="#2a2a2a" text-anchor="middle" font-weight="normal" stroke="#2a2a2a" stroke-width="0.1">54</text>
<line x1="505.40" y1="552.50" x2="505.40" y2="555.90" stroke="#1a1a1a" stroke-width="1.1"/>
<text x="505.40" y="564.70" font-size="7.2" fill="#2a2a2a" text-anchor="middle" font-weight="normal" stroke="#2a2a2a" stroke-width="0.1">60</text>
<text x="377.00" y="575.30" font-size="8.6" fill="#111" text-anchor="start" font-weight="bold" textLength="63.50" lengthAdjust="spacingAndGlyphs">Months after diagnosis</text>
<text transform="translate(277.30,494.50) rotate(-90)" x="0" y="0" font-size="8.0" font-weight="bold" fill="#111" text-anchor="middle" textLength="39.6" lengthAdjust="spacingAndGlyphs">OS Probability</text>
<text x="267.20" y="430.40" font-size="11.3" fill="#000" text-anchor="start" font-weight="bold">F</text>
<text x="279.53" y="587.00" font-size="6.5" fill="#d0143a" text-anchor="start" font-weight="normal" textLength="21.97" lengthAdjust="spacingAndGlyphs" stroke="#d0143a" stroke-width="0.1">De novo</text>
<text x="310.00" y="587.20" font-size="6.4" fill="#d0143a" text-anchor="middle" font-weight="normal" textLength="11.20" lengthAdjust="spacingAndGlyphs" stroke="#d0143a" stroke-width="0.1">6211</text>
<text x="329.42" y="587.20" font-size="6.4" fill="#d0143a" text-anchor="middle" font-weight="normal" textLength="11.20" lengthAdjust="spacingAndGlyphs" stroke="#d0143a" stroke-width="0.1">3305</text>
<text x="348.84" y="587.20" font-size="6.4" fill="#d0143a" text-anchor="middle" font-weight="normal" textLength="11.20" lengthAdjust="spacingAndGlyphs" stroke="#d0143a" stroke-width="0.1">2298</text>
<text x="368.26" y="587.20" font-size="6.4" fill="#d0143a" text-anchor="middle" font-weight="normal" textLength="11.20" lengthAdjust="spacingAndGlyphs" stroke="#d0143a" stroke-width="0.1">1736</text>
<text x="387.68" y="587.20" font-size="6.4" fill="#d0143a" text-anchor="middle" font-weight="normal" textLength="11.20" lengthAdjust="spacingAndGlyphs" stroke="#d0143a" stroke-width="0.1">1378</text>
<text x="407.10" y="587.20" font-size="6.4" fill="#d0143a" text-anchor="middle" font-weight="normal" textLength="11.20" lengthAdjust="spacingAndGlyphs" stroke="#d0143a" stroke-width="0.1">1166</text>
<text x="426.52" y="587.20" font-size="6.4" fill="#d0143a" text-anchor="middle" font-weight="normal" textLength="11.20" lengthAdjust="spacingAndGlyphs" stroke="#d0143a" stroke-width="0.1">1034</text>
<text x="445.94" y="587.20" font-size="6.4" fill="#d0143a" text-anchor="middle" font-weight="normal" textLength="8.40" lengthAdjust="spacingAndGlyphs" stroke="#d0143a" stroke-width="0.1">909</text>
<text x="465.36" y="587.20" font-size="6.4" fill="#d0143a" text-anchor="middle" font-weight="normal" textLength="8.40" lengthAdjust="spacingAndGlyphs" stroke="#d0143a" stroke-width="0.1">823</text>
<text x="484.78" y="587.20" font-size="6.4" fill="#d0143a" text-anchor="middle" font-weight="normal" textLength="8.40" lengthAdjust="spacingAndGlyphs" stroke="#d0143a" stroke-width="0.1">733</text>
<text x="504.20" y="587.20" font-size="6.4" fill="#d0143a" text-anchor="middle" font-weight="normal" textLength="8.40" lengthAdjust="spacingAndGlyphs" stroke="#d0143a" stroke-width="0.1">650</text>
<text x="274.29" y="594.60" font-size="6.5" fill="#1b5292" text-anchor="start" font-weight="normal" textLength="27.21" lengthAdjust="spacingAndGlyphs" stroke="#1b5292" stroke-width="0.1">MDS-AML</text>
<text x="310.00" y="594.80" font-size="6.4" fill="#1b5292" text-anchor="middle" font-weight="normal" textLength="8.40" lengthAdjust="spacingAndGlyphs" stroke="#1b5292" stroke-width="0.1">884</text>
<text x="329.42" y="594.80" font-size="6.4" fill="#1b5292" text-anchor="middle" font-weight="normal" textLength="8.40" lengthAdjust="spacingAndGlyphs" stroke="#1b5292" stroke-width="0.1">383</text>
<text x="348.84" y="594.80" font-size="6.4" fill="#1b5292" text-anchor="middle" font-weight="normal" textLength="8.40" lengthAdjust="spacingAndGlyphs" stroke="#1b5292" stroke-width="0.1">222</text>
<text x="368.26" y="594.80" font-size="6.4" fill="#1b5292" text-anchor="middle" font-weight="normal" textLength="8.40" lengthAdjust="spacingAndGlyphs" stroke="#1b5292" stroke-width="0.1">139</text>
<text x="387.68" y="594.80" font-size="6.4" fill="#1b5292" text-anchor="middle" font-weight="normal" textLength="8.40" lengthAdjust="spacingAndGlyphs" stroke="#1b5292" stroke-width="0.1">101</text>
<text x="407.10" y="594.80" font-size="6.4" fill="#1b5292" text-anchor="middle" font-weight="normal" textLength="5.60" lengthAdjust="spacingAndGlyphs" stroke="#1b5292" stroke-width="0.1">72</text>
<text x="426.52" y="594.80" font-size="6.4" fill="#1b5292" text-anchor="middle" font-weight="normal" textLength="5.60" lengthAdjust="spacingAndGlyphs" stroke="#1b5292" stroke-width="0.1">59</text>
<text x="445.94" y="594.80" font-size="6.4" fill="#1b5292" text-anchor="middle" font-weight="normal" textLength="5.60" lengthAdjust="spacingAndGlyphs" stroke="#1b5292" stroke-width="0.1">48</text>
<text x="465.36" y="594.80" font-size="6.4" fill="#1b5292" text-anchor="middle" font-weight="normal" textLength="5.60" lengthAdjust="spacingAndGlyphs" stroke="#1b5292" stroke-width="0.1">36</text>
<text x="484.78" y="594.80" font-size="6.4" fill="#1b5292" text-anchor="middle" font-weight="normal" textLength="5.60" lengthAdjust="spacingAndGlyphs" stroke="#1b5292" stroke-width="0.1">31</text>
<text x="504.20" y="594.80" font-size="6.4" fill="#1b5292" text-anchor="middle" font-weight="normal" textLength="5.60" lengthAdjust="spacingAndGlyphs" stroke="#1b5292" stroke-width="0.1">24</text>
<text x="261.80" y="601.80" font-size="6.5" fill="#45b94f" text-anchor="start" font-weight="normal" textLength="39.70" lengthAdjust="spacingAndGlyphs" stroke="#45b94f" stroke-width="0.1">MDS/MPN-AML</text>
<text x="310.00" y="602.00" font-size="6.4" fill="#45b94f" text-anchor="middle" font-weight="normal" textLength="8.40" lengthAdjust="spacingAndGlyphs" stroke="#45b94f" stroke-width="0.1">209</text>
<text x="329.42" y="602.00" font-size="6.4" fill="#45b94f" text-anchor="middle" font-weight="normal" textLength="5.60" lengthAdjust="spacingAndGlyphs" stroke="#45b94f" stroke-width="0.1">75</text>
<text x="348.84" y="602.00" font-size="6.4" fill="#45b94f" text-anchor="middle" font-weight="normal" textLength="5.60" lengthAdjust="spacingAndGlyphs" stroke="#45b94f" stroke-width="0.1">40</text>
<text x="368.26" y="602.00" font-size="6.4" fill="#45b94f" text-anchor="middle" font-weight="normal" textLength="5.60" lengthAdjust="spacingAndGlyphs" stroke="#45b94f" stroke-width="0.1">25</text>
<text x="387.68" y="602.00" font-size="6.4" fill="#45b94f" text-anchor="middle" font-weight="normal" textLength="5.60" lengthAdjust="spacingAndGlyphs" stroke="#45b94f" stroke-width="0.1">18</text>
<text x="407.10" y="602.00" font-size="6.4" fill="#45b94f" text-anchor="middle" font-weight="normal" textLength="5.60" lengthAdjust="spacingAndGlyphs" stroke="#45b94f" stroke-width="0.1">10</text>
<text x="426.52" y="602.00" font-size="6.4" fill="#45b94f" text-anchor="middle" font-weight="normal" textLength="2.80" lengthAdjust="spacingAndGlyphs" stroke="#45b94f" stroke-width="0.1">6</text>
<text x="445.94" y="602.00" font-size="6.4" fill="#45b94f" text-anchor="middle" font-weight="normal" textLength="2.80" lengthAdjust="spacingAndGlyphs" stroke="#45b94f" stroke-width="0.1">4</text>
<text x="465.36" y="602.00" font-size="6.4" fill="#45b94f" text-anchor="middle" font-weight="normal" textLength="2.80" lengthAdjust="spacingAndGlyphs" stroke="#45b94f" stroke-width="0.1">4</text>
<text x="484.78" y="602.00" font-size="6.4" fill="#45b94f" text-anchor="middle" font-weight="normal" textLength="2.80" lengthAdjust="spacingAndGlyphs" stroke="#45b94f" stroke-width="0.1">3</text>
<text x="504.20" y="602.00" font-size="6.4" fill="#45b94f" text-anchor="middle" font-weight="normal" textLength="2.80" lengthAdjust="spacingAndGlyphs" stroke="#45b94f" stroke-width="0.1">1</text>
<text x="273.80" y="609.00" font-size="6.5" fill="#5e2a86" text-anchor="start" font-weight="normal" textLength="27.70" lengthAdjust="spacingAndGlyphs" stroke="#5e2a86" stroke-width="0.1">MPN-AML</text>
<text x="310.00" y="609.20" font-size="6.4" fill="#5e2a86" text-anchor="middle" font-weight="normal" textLength="8.40" lengthAdjust="spacingAndGlyphs" stroke="#5e2a86" stroke-width="0.1">226</text>
<text x="329.42" y="609.20" font-size="6.4" fill="#5e2a86" text-anchor="middle" font-weight="normal" textLength="5.60" lengthAdjust="spacingAndGlyphs" stroke="#5e2a86" stroke-width="0.1">84</text>
<text x="348.84" y="609.20" font-size="6.4" fill="#5e2a86" text-anchor="middle" font-weight="normal" textLength="5.60" lengthAdjust="spacingAndGlyphs" stroke="#5e2a86" stroke-width="0.1">45</text>
<text x="368.26" y="609.20" font-size="6.4" fill="#5e2a86" text-anchor="middle" font-weight="normal" textLength="5.60" lengthAdjust="spacingAndGlyphs" stroke="#5e2a86" stroke-width="0.1">30</text>
<text x="387.68" y="609.20" font-size="6.4" fill="#5e2a86" text-anchor="middle" font-weight="normal" textLength="5.60" lengthAdjust="spacingAndGlyphs" stroke="#5e2a86" stroke-width="0.1">21</text>
<text x="407.10" y="609.20" font-size="6.4" fill="#5e2a86" text-anchor="middle" font-weight="normal" textLength="5.60" lengthAdjust="spacingAndGlyphs" stroke="#5e2a86" stroke-width="0.1">19</text>
<text x="426.52" y="609.20" font-size="6.4" fill="#5e2a86" text-anchor="middle" font-weight="normal" textLength="5.60" lengthAdjust="spacingAndGlyphs" stroke="#5e2a86" stroke-width="0.1">10</text>
<text x="445.94" y="609.20" font-size="6.4" fill="#5e2a86" text-anchor="middle" font-weight="normal" textLength="2.80" lengthAdjust="spacingAndGlyphs" stroke="#5e2a86" stroke-width="0.1">9</text>
<text x="465.36" y="609.20" font-size="6.4" fill="#5e2a86" text-anchor="middle" font-weight="normal" textLength="2.80" lengthAdjust="spacingAndGlyphs" stroke="#5e2a86" stroke-width="0.1">8</text>
<text x="484.78" y="609.20" font-size="6.4" fill="#5e2a86" text-anchor="middle" font-weight="normal" textLength="2.80" lengthAdjust="spacingAndGlyphs" stroke="#5e2a86" stroke-width="0.1">7</text>
<text x="504.20" y="609.20" font-size="6.4" fill="#5e2a86" text-anchor="middle" font-weight="normal" textLength="2.80" lengthAdjust="spacingAndGlyphs" stroke="#5e2a86" stroke-width="0.1">6</text>
<text x="285.40" y="616.00" font-size="6.5" fill="#f7961f" text-anchor="start" font-weight="normal" textLength="16.10" lengthAdjust="spacingAndGlyphs" stroke="#f7961f" stroke-width="0.1">t-AML</text>
<text x="310.00" y="616.20" font-size="6.4" fill="#f7961f" text-anchor="middle" font-weight="normal" textLength="8.40" lengthAdjust="spacingAndGlyphs" stroke="#f7961f" stroke-width="0.1">502</text>
<text x="329.42" y="616.20" font-size="6.4" fill="#f7961f" text-anchor="middle" font-weight="normal" textLength="8.40" lengthAdjust="spacingAndGlyphs" stroke="#f7961f" stroke-width="0.1">217</text>
<text x="348.84" y="616.20" font-size="6.4" fill="#f7961f" text-anchor="middle" font-weight="normal" textLength="8.40" lengthAdjust="spacingAndGlyphs" stroke="#f7961f" stroke-width="0.1">133</text>
<text x="368.26" y="616.20" font-size="6.4" fill="#f7961f" text-anchor="middle" font-weight="normal" textLength="5.60" lengthAdjust="spacingAndGlyphs" stroke="#f7961f" stroke-width="0.1">77</text>
<text x="387.68" y="616.20" font-size="6.4" fill="#f7961f" text-anchor="middle" font-weight="normal" textLength="5.60" lengthAdjust="spacingAndGlyphs" stroke="#f7961f" stroke-width="0.1">59</text>
<text x="407.10" y="616.20" font-size="6.4" fill="#f7961f" text-anchor="middle" font-weight="normal" textLength="5.60" lengthAdjust="spacingAndGlyphs" stroke="#f7961f" stroke-width="0.1">54</text>
<text x="426.52" y="616.20" font-size="6.4" fill="#f7961f" text-anchor="middle" font-weight="normal" textLength="5.60" lengthAdjust="spacingAndGlyphs" stroke="#f7961f" stroke-width="0.1">41</text>
<text x="445.94" y="616.20" font-size="6.4" fill="#f7961f" text-anchor="middle" font-weight="normal" textLength="5.60" lengthAdjust="spacingAndGlyphs" stroke="#f7961f" stroke-width="0.1">38</text>
<text x="465.36" y="616.20" font-size="6.4" fill="#f7961f" text-anchor="middle" font-weight="normal" textLength="5.60" lengthAdjust="spacingAndGlyphs" stroke="#f7961f" stroke-width="0.1">29</text>
<text x="484.78" y="616.20" font-size="6.4" fill="#f7961f" text-anchor="middle" font-weight="normal" textLength="5.60" lengthAdjust="spacingAndGlyphs" stroke="#f7961f" stroke-width="0.1">25</text>
<text x="504.20" y="616.20" font-size="6.4" fill="#f7961f" text-anchor="middle" font-weight="normal" textLength="5.60" lengthAdjust="spacingAndGlyphs" stroke="#f7961f" stroke-width="0.1">21</text>
<text x="276.20" y="622.80" font-size="6.5" fill="#1f6f56" text-anchor="start" font-weight="normal" textLength="25.30" lengthAdjust="spacingAndGlyphs" stroke="#1f6f56" stroke-width="0.1">Neo-AML</text>
<text x="310.00" y="623.00" font-size="6.4" fill="#1f6f56" text-anchor="middle" font-weight="normal" textLength="8.40" lengthAdjust="spacingAndGlyphs" stroke="#1f6f56" stroke-width="0.1">179</text>
<text x="329.42" y="623.00" font-size="6.4" fill="#1f6f56" text-anchor="middle" font-weight="normal" textLength="5.60" lengthAdjust="spacingAndGlyphs" stroke="#1f6f56" stroke-width="0.1">78</text>
<text x="348.84" y="623.00" font-size="6.4" fill="#1f6f56" text-anchor="middle" font-weight="normal" textLength="5.60" lengthAdjust="spacingAndGlyphs" stroke="#1f6f56" stroke-width="0.1">50</text>
<text x="368.26" y="623.00" font-size="6.4" fill="#1f6f56" text-anchor="middle" font-weight="normal" textLength="5.60" lengthAdjust="spacingAndGlyphs" stroke="#1f6f56" stroke-width="0.1">36</text>
<text x="387.68" y="623.00" font-size="6.4" fill="#1f6f56" text-anchor="middle" font-weight="normal" textLength="5.60" lengthAdjust="spacingAndGlyphs" stroke="#1f6f56" stroke-width="0.1">29</text>
<text x="407.10" y="623.00" font-size="6.4" fill="#1f6f56" text-anchor="middle" font-weight="normal" textLength="5.60" lengthAdjust="spacingAndGlyphs" stroke="#1f6f56" stroke-width="0.1">23</text>
<text x="426.52" y="623.00" font-size="6.4" fill="#1f6f56" text-anchor="middle" font-weight="normal" textLength="5.60" lengthAdjust="spacingAndGlyphs" stroke="#1f6f56" stroke-width="0.1">19</text>
<text x="445.94" y="623.00" font-size="6.4" fill="#1f6f56" text-anchor="middle" font-weight="normal" textLength="5.60" lengthAdjust="spacingAndGlyphs" stroke="#1f6f56" stroke-width="0.1">17</text>
<text x="465.36" y="623.00" font-size="6.4" fill="#1f6f56" text-anchor="middle" font-weight="normal" textLength="5.60" lengthAdjust="spacingAndGlyphs" stroke="#1f6f56" stroke-width="0.1">15</text>
<text x="484.78" y="623.00" font-size="6.4" fill="#1f6f56" text-anchor="middle" font-weight="normal" textLength="5.60" lengthAdjust="spacingAndGlyphs" stroke="#1f6f56" stroke-width="0.1">14</text>
<text x="504.20" y="623.00" font-size="6.4" fill="#1f6f56" text-anchor="middle" font-weight="normal" textLength="5.60" lengthAdjust="spacingAndGlyphs" stroke="#1f6f56" stroke-width="0.1">12</text>
<rect x="0.6" y="0.6" width="518.8" height="628.8" fill="none" stroke="#000" stroke-width="1.3"/>
</svg></body></html>
